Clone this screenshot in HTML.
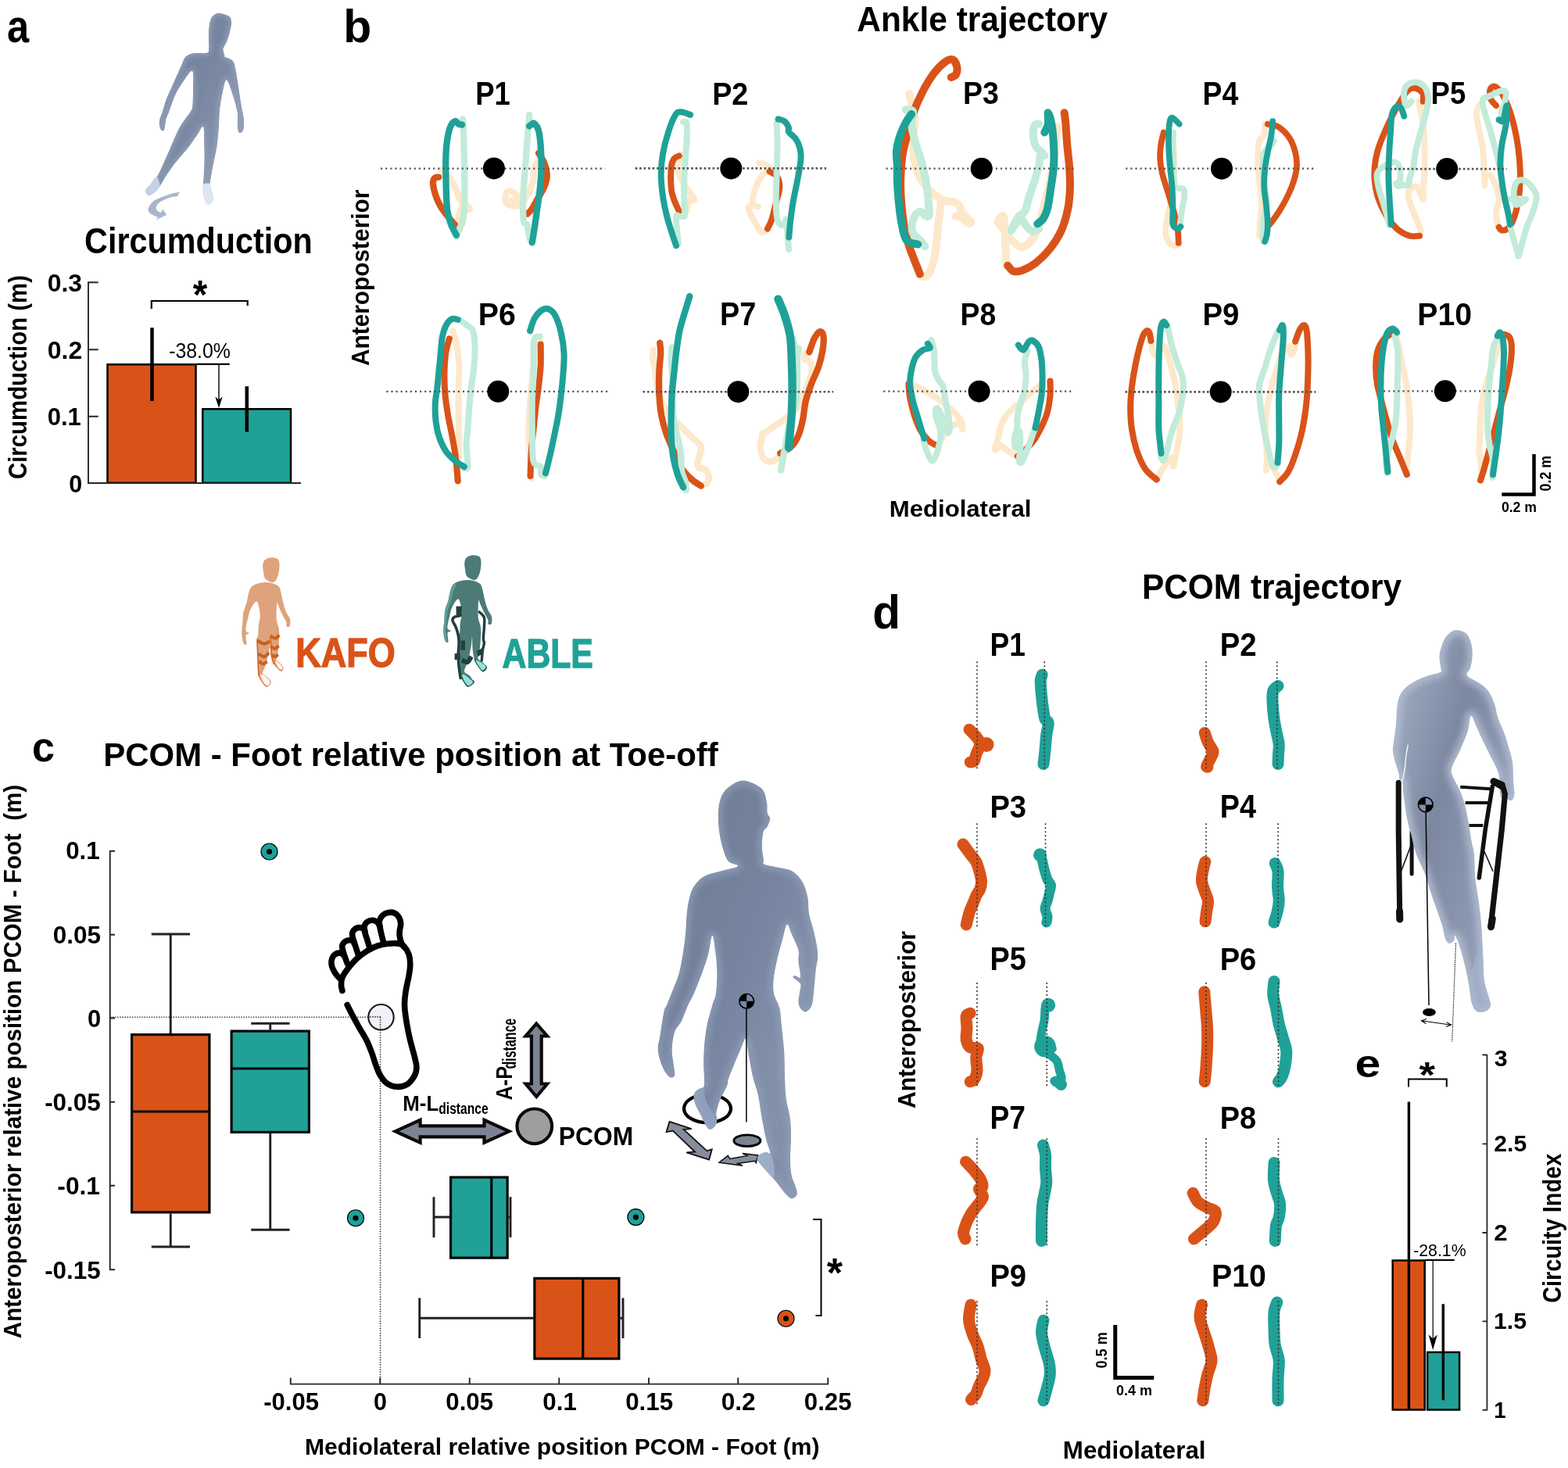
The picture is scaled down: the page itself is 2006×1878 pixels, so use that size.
<!DOCTYPE html>
<html lang="en"><head><meta charset="utf-8"><title>Figure</title>
<style>
html,body{margin:0;padding:0;background:#fff;}
body{width:2006px;height:1878px;overflow:hidden;}
svg{display:block;}
text{font-family:"Liberation Sans",sans-serif;}
.b{font-weight:bold;}
</style></head><body>
<svg width="2006" height="1878" viewBox="0 0 2006 1878">
<rect width="2006" height="1878" fill="#fff"/>
<!-- 00_defs.svg -->
<defs>
<linearGradient id="gFigA" gradientUnits="userSpaceOnUse" x1="190" y1="60" x2="315" y2="120">
<stop offset="0" stop-color="#73809A"/><stop offset="0.6" stop-color="#7886A1"/><stop offset="1" stop-color="#8592AB"/>
</linearGradient>
<linearGradient id="gFig" gradientUnits="userSpaceOnUse" x1="850" y1="1150" x2="1050" y2="1230">
<stop offset="0" stop-color="#717D95"/><stop offset="0.55" stop-color="#7684A0"/><stop offset="1" stop-color="#8290AA"/>
</linearGradient>
<linearGradient id="gFigD" gradientUnits="userSpaceOnUse" x1="1785" y1="950" x2="1940" y2="990">
<stop offset="0" stop-color="#98A4BA"/><stop offset="0.45" stop-color="#7C88A1"/><stop offset="1" stop-color="#8E9AB3"/>
</linearGradient>
<filter id="blur2" x="-20%" y="-20%" width="140%" height="140%"><feGaussianBlur stdDeviation="2"/></filter>
<filter id="blur3" x="-20%" y="-20%" width="140%" height="140%"><feGaussianBlur stdDeviation="3"/></filter>
<filter id="blur5" x="-20%" y="-20%" width="140%" height="140%"><feGaussianBlur stdDeviation="5"/></filter>
</defs>
<!-- 10_a.svg -->
<g id="panel-a">
<clipPath id="clipA"><path d="M267.0 61.2C266.6 62.5 268.2 66.4 265.0 67.5C261.8 68.6 252.1 67.2 247.5 68.0C242.9 68.8 240.0 70.1 237.5 72.5C235.0 74.9 235.0 77.1 232.5 82.5C230.0 87.9 225.8 97.5 222.5 105.0C219.2 112.5 214.9 121.2 212.5 127.5C210.1 133.8 209.5 137.9 208.0 142.5C206.5 147.1 204.2 151.2 203.8 155.0C203.3 158.8 204.5 163.6 205.5 165.5C206.5 167.4 208.8 168.4 210.0 166.2C211.2 164.1 211.6 156.0 212.5 152.5C213.4 149.0 213.4 150.4 215.5 145.0C217.6 139.6 221.3 127.5 225.0 120.0C228.7 112.5 234.0 104.8 237.5 100.0C241.0 95.2 244.7 89.2 246.2 91.2C247.8 93.3 247.0 105.2 247.0 112.5C247.0 119.8 246.8 130.0 246.2 135.0C245.7 140.0 246.5 137.9 243.8 142.5C241.0 147.1 234.4 154.6 230.0 162.5C225.6 170.4 221.2 181.7 217.5 190.0C213.8 198.3 210.4 206.2 207.5 212.5C204.6 218.8 202.7 223.3 200.0 227.5C197.3 231.7 193.5 234.8 191.2 237.5C189.0 240.2 186.5 241.7 186.2 243.8C186.0 245.8 188.1 249.6 190.0 250.0C191.9 250.4 195.0 248.3 197.5 246.2C200.0 244.2 202.5 241.0 205.0 237.5C207.5 234.0 209.2 230.0 212.5 225.0C215.8 220.0 220.4 213.3 225.0 207.5C229.6 201.7 235.4 195.8 240.0 190.0C244.6 184.2 249.2 177.1 252.5 172.5C255.8 167.9 258.5 160.0 260.0 162.5C261.5 165.0 261.0 179.2 261.2 187.5C261.5 195.8 261.5 204.6 261.2 212.5C261.0 220.4 260.2 229.2 260.0 235.0C259.8 240.8 259.4 243.5 260.0 247.5C260.6 251.5 262.5 256.5 263.8 258.8C265.0 261.0 266.0 261.9 267.5 261.2C269.0 260.6 272.1 258.5 272.5 255.0C272.9 251.5 270.6 243.3 270.0 240.0C269.4 236.7 268.3 239.6 268.8 235.0C269.2 230.4 271.0 220.4 272.5 212.5C274.0 204.6 276.2 195.8 277.5 187.5C278.8 179.2 279.4 170.4 280.0 162.5C280.6 154.6 280.4 147.5 281.2 140.0C282.1 132.5 283.5 123.8 285.0 117.5C286.5 111.2 287.7 101.2 290.0 102.5C292.3 103.8 296.5 117.9 298.8 125.0C301.0 132.1 302.9 138.8 303.8 145.0C304.6 151.2 303.3 158.3 303.8 162.5C304.2 166.7 305.0 169.4 306.2 170.0C307.5 170.6 310.3 169.2 311.2 166.2C312.2 163.3 312.4 157.7 312.0 152.5C311.6 147.3 309.9 142.1 308.8 135.0C307.6 127.9 306.2 117.9 305.0 110.0C303.8 102.1 302.5 92.9 301.2 87.5C300.0 82.1 299.8 80.0 297.5 77.5C295.2 75.0 289.2 73.5 287.5 72.5C285.8 71.5 287.8 72.9 287.5 71.2C287.2 69.6 285.2 65.4 285.6 62.4C286.1 59.3 288.9 56.6 290.3 53.0C291.7 49.4 293.2 44.6 294.2 40.5C295.2 36.5 296.2 32.1 296.1 28.8C295.9 25.6 295.9 23.0 293.4 21.0C290.9 19.0 284.1 17.3 280.9 16.8C277.8 16.4 276.5 17.3 274.7 18.4C272.9 19.5 271.3 20.7 270.0 23.4C268.8 26.0 267.9 30.4 267.4 34.3C266.9 38.2 266.9 42.5 266.9 46.8C266.9 51.1 267.2 57.6 267.2 60.0C267.2 62.4 267.4 60.0 267.0 61.2Z"/></clipPath>
<g clip-path="url(#clipA)"><path d="M267.0 61.2C266.6 62.5 268.2 66.4 265.0 67.5C261.8 68.6 252.1 67.2 247.5 68.0C242.9 68.8 240.0 70.1 237.5 72.5C235.0 74.9 235.0 77.1 232.5 82.5C230.0 87.9 225.8 97.5 222.5 105.0C219.2 112.5 214.9 121.2 212.5 127.5C210.1 133.8 209.5 137.9 208.0 142.5C206.5 147.1 204.2 151.2 203.8 155.0C203.3 158.8 204.5 163.6 205.5 165.5C206.5 167.4 208.8 168.4 210.0 166.2C211.2 164.1 211.6 156.0 212.5 152.5C213.4 149.0 213.4 150.4 215.5 145.0C217.6 139.6 221.3 127.5 225.0 120.0C228.7 112.5 234.0 104.8 237.5 100.0C241.0 95.2 244.7 89.2 246.2 91.2C247.8 93.3 247.0 105.2 247.0 112.5C247.0 119.8 246.8 130.0 246.2 135.0C245.7 140.0 246.5 137.9 243.8 142.5C241.0 147.1 234.4 154.6 230.0 162.5C225.6 170.4 221.2 181.7 217.5 190.0C213.8 198.3 210.4 206.2 207.5 212.5C204.6 218.8 202.7 223.3 200.0 227.5C197.3 231.7 193.5 234.8 191.2 237.5C189.0 240.2 186.5 241.7 186.2 243.8C186.0 245.8 188.1 249.6 190.0 250.0C191.9 250.4 195.0 248.3 197.5 246.2C200.0 244.2 202.5 241.0 205.0 237.5C207.5 234.0 209.2 230.0 212.5 225.0C215.8 220.0 220.4 213.3 225.0 207.5C229.6 201.7 235.4 195.8 240.0 190.0C244.6 184.2 249.2 177.1 252.5 172.5C255.8 167.9 258.5 160.0 260.0 162.5C261.5 165.0 261.0 179.2 261.2 187.5C261.5 195.8 261.5 204.6 261.2 212.5C261.0 220.4 260.2 229.2 260.0 235.0C259.8 240.8 259.4 243.5 260.0 247.5C260.6 251.5 262.5 256.5 263.8 258.8C265.0 261.0 266.0 261.9 267.5 261.2C269.0 260.6 272.1 258.5 272.5 255.0C272.9 251.5 270.6 243.3 270.0 240.0C269.4 236.7 268.3 239.6 268.8 235.0C269.2 230.4 271.0 220.4 272.5 212.5C274.0 204.6 276.2 195.8 277.5 187.5C278.8 179.2 279.4 170.4 280.0 162.5C280.6 154.6 280.4 147.5 281.2 140.0C282.1 132.5 283.5 123.8 285.0 117.5C286.5 111.2 287.7 101.2 290.0 102.5C292.3 103.8 296.5 117.9 298.8 125.0C301.0 132.1 302.9 138.8 303.8 145.0C304.6 151.2 303.3 158.3 303.8 162.5C304.2 166.7 305.0 169.4 306.2 170.0C307.5 170.6 310.3 169.2 311.2 166.2C312.2 163.3 312.4 157.7 312.0 152.5C311.6 147.3 309.9 142.1 308.8 135.0C307.6 127.9 306.2 117.9 305.0 110.0C303.8 102.1 302.5 92.9 301.2 87.5C300.0 82.1 299.8 80.0 297.5 77.5C295.2 75.0 289.2 73.5 287.5 72.5C285.8 71.5 287.8 72.9 287.5 71.2C287.2 69.6 285.2 65.4 285.6 62.4C286.1 59.3 288.9 56.6 290.3 53.0C291.7 49.4 293.2 44.6 294.2 40.5C295.2 36.5 296.2 32.1 296.1 28.8C295.9 25.6 295.9 23.0 293.4 21.0C290.9 19.0 284.1 17.3 280.9 16.8C277.8 16.4 276.5 17.3 274.7 18.4C272.9 19.5 271.3 20.7 270.0 23.4C268.8 26.0 267.9 30.4 267.4 34.3C266.9 38.2 266.9 42.5 266.9 46.8C266.9 51.1 267.2 57.6 267.2 60.0C267.2 62.4 267.4 60.0 267.0 61.2Z" fill="url(#gFigA)"/><g filter="url(#blur3)" opacity="0.8"><path d="M267.0 61.2C266.6 62.5 268.2 66.4 265.0 67.5C261.8 68.6 252.1 67.2 247.5 68.0C242.9 68.8 240.0 70.1 237.5 72.5C235.0 74.9 235.0 77.1 232.5 82.5C230.0 87.9 225.8 97.5 222.5 105.0C219.2 112.5 214.9 121.2 212.5 127.5C210.1 133.8 209.5 137.9 208.0 142.5C206.5 147.1 204.2 151.2 203.8 155.0C203.3 158.8 204.5 163.6 205.5 165.5C206.5 167.4 208.8 168.4 210.0 166.2C211.2 164.1 211.6 156.0 212.5 152.5C213.4 149.0 213.4 150.4 215.5 145.0C217.6 139.6 221.3 127.5 225.0 120.0C228.7 112.5 234.0 104.8 237.5 100.0C241.0 95.2 244.7 89.2 246.2 91.2C247.8 93.3 247.0 105.2 247.0 112.5C247.0 119.8 246.8 130.0 246.2 135.0C245.7 140.0 246.5 137.9 243.8 142.5C241.0 147.1 234.4 154.6 230.0 162.5C225.6 170.4 221.2 181.7 217.5 190.0C213.8 198.3 210.4 206.2 207.5 212.5C204.6 218.8 202.7 223.3 200.0 227.5C197.3 231.7 193.5 234.8 191.2 237.5C189.0 240.2 186.5 241.7 186.2 243.8C186.0 245.8 188.1 249.6 190.0 250.0C191.9 250.4 195.0 248.3 197.5 246.2C200.0 244.2 202.5 241.0 205.0 237.5C207.5 234.0 209.2 230.0 212.5 225.0C215.8 220.0 220.4 213.3 225.0 207.5C229.6 201.7 235.4 195.8 240.0 190.0C244.6 184.2 249.2 177.1 252.5 172.5C255.8 167.9 258.5 160.0 260.0 162.5C261.5 165.0 261.0 179.2 261.2 187.5C261.5 195.8 261.5 204.6 261.2 212.5C261.0 220.4 260.2 229.2 260.0 235.0C259.8 240.8 259.4 243.5 260.0 247.5C260.6 251.5 262.5 256.5 263.8 258.8C265.0 261.0 266.0 261.9 267.5 261.2C269.0 260.6 272.1 258.5 272.5 255.0C272.9 251.5 270.6 243.3 270.0 240.0C269.4 236.7 268.3 239.6 268.8 235.0C269.2 230.4 271.0 220.4 272.5 212.5C274.0 204.6 276.2 195.8 277.5 187.5C278.8 179.2 279.4 170.4 280.0 162.5C280.6 154.6 280.4 147.5 281.2 140.0C282.1 132.5 283.5 123.8 285.0 117.5C286.5 111.2 287.7 101.2 290.0 102.5C292.3 103.8 296.5 117.9 298.8 125.0C301.0 132.1 302.9 138.8 303.8 145.0C304.6 151.2 303.3 158.3 303.8 162.5C304.2 166.7 305.0 169.4 306.2 170.0C307.5 170.6 310.3 169.2 311.2 166.2C312.2 163.3 312.4 157.7 312.0 152.5C311.6 147.3 309.9 142.1 308.8 135.0C307.6 127.9 306.2 117.9 305.0 110.0C303.8 102.1 302.5 92.9 301.2 87.5C300.0 82.1 299.8 80.0 297.5 77.5C295.2 75.0 289.2 73.5 287.5 72.5C285.8 71.5 287.8 72.9 287.5 71.2C287.2 69.6 285.2 65.4 285.6 62.4C286.1 59.3 288.9 56.6 290.3 53.0C291.7 49.4 293.2 44.6 294.2 40.5C295.2 36.5 296.2 32.1 296.1 28.8C295.9 25.6 295.9 23.0 293.4 21.0C290.9 19.0 284.1 17.3 280.9 16.8C277.8 16.4 276.5 17.3 274.7 18.4C272.9 19.5 271.3 20.7 270.0 23.4C268.8 26.0 267.9 30.4 267.4 34.3C266.9 38.2 266.9 42.5 266.9 46.8C266.9 51.1 267.2 57.6 267.2 60.0C267.2 62.4 267.4 60.0 267.0 61.2Z" fill="none" stroke="#98A5BD" stroke-width="6"/></g></g>
<path d="M200.0 226.2C197.8 226.2 193.5 234.6 191.2 237.5C189.0 240.4 186.5 241.7 186.2 243.8C186.0 245.8 188.1 249.6 190.0 250.0C191.9 250.4 195.1 248.3 197.5 246.2C199.9 244.2 204.1 240.8 204.5 237.5C204.9 234.2 202.2 226.2 200.0 226.2Z" fill="#C3D0E6"/>
<path d="M260.0 236.2C258.5 238.3 259.4 243.8 260.0 247.5C260.6 251.2 262.5 256.5 263.8 258.8C265.0 261.0 266.0 261.9 267.5 261.2C269.0 260.6 272.1 258.5 272.5 255.0C272.9 251.5 270.6 243.3 270.0 240.0C269.4 236.7 270.4 235.6 268.8 235.0C267.1 234.4 261.5 234.2 260.0 236.2Z" fill="#DDE5F2"/>
<path d="M229.9 246.1L221.3 247.6L212.8 250.2L205.2 253.2L198.2 256.2L192.6 261.2L189.9 266.8L190.1 270.3L192.6 273.3L197.7 275.8L202.7 277.8L200.2 280.8L212.8 274.8L208.5 268.3L207.0 270.5L206.2 272.3L202.2 270.8L199.7 267.8L199.2 264.7L201.2 261.2L205.2 257.7L211.2 254.7L219.3 251.7L227.3 250.7L227.8 248.6Z" fill="#A6B7CC" stroke="#A6B7CC" stroke-width="0.6" stroke-linejoin="round"/>
<rect x="137.5" y="466.25" width="113" height="151.5" fill="#D95319" stroke="#000" stroke-width="2.5"/>
<rect x="259.25" y="523.25" width="112.75" height="94.5" fill="#1FA198" stroke="#000" stroke-width="2.5"/>
<path d="M125.7 361.3H113V618H385M113 447.2H125.7M113 532.7H125.7" fill="none" stroke="#262626" stroke-width="1.9"/>
<path d="M194.5 419.2V513M315.8 494.2V552.5" stroke="#000" stroke-width="4.5" fill="none"/>
<path d="M251 465.8H293.8" stroke="#000" stroke-width="2.2" fill="none"/>
<path d="M280 466V515" stroke="#000" stroke-width="1.4" fill="none"/><path d="M280 522L275.3 507.5L280 511.5L284.7 507.5Z" fill="#000"/>
<path d="M193.8 395V385H316.7V391" stroke="#000" stroke-width="2.2" fill="none"/>
</g>
<text transform="translate(8.98 54.41) scale(0.2533 0.2936)" font-size="200" font-weight="bold" fill="#000" style="white-space:pre">a</text>
<text transform="translate(108.05 324.34) scale(0.2068 0.2299)" font-size="200" font-weight="bold" fill="#000" style="white-space:pre">Circumduction</text>
<text transform="translate(60.73 373.48) scale(0.1593 0.1592)" font-size="200" font-weight="bold" fill="#000" style="white-space:pre">0.3</text>
<text transform="translate(60.72 458.98) scale(0.1599 0.1592)" font-size="200" font-weight="bold" fill="#000" style="white-space:pre">0.2</text>
<text transform="translate(60.76 544.48) scale(0.1551 0.1592)" font-size="200" font-weight="bold" fill="#000" style="white-space:pre">0.1</text>
<text transform="translate(88.18 629.98) scale(0.1526 0.1592)" font-size="200" font-weight="bold" fill="#000" style="white-space:pre">0</text>
<text transform="translate(246.86 395.12) scale(0.2382 0.2581)" font-size="200" font-weight="bold" fill="#000" style="white-space:pre">*</text>
<text transform="translate(216.18 457.83) scale(0.1244 0.1345)" font-size="200" fill="#000" style="white-space:pre">-38.0%</text>
<text transform="translate(34.09 613.02) rotate(-90) scale(0.1469 0.1644)" font-size="200" font-weight="bold" fill="#000" style="white-space:pre">Circumduction (m)</text>
<!-- 20_b.svg -->
<g id="panel-b" fill="none" stroke-linecap="round" stroke-linejoin="round">
<g><!-- P1 -->
<path d="M564.0 217.5C565.8 219.1 571.5 222.4 574.9 226.6C578.2 230.8 581.5 237.8 583.9 242.9C586.3 248.0 586.6 253.6 589.4 257.4C592.1 261.2 598.7 263.7 600.2 265.5C601.7 267.3 600.1 268.1 598.4 268.2C596.8 268.4 592.2 264.9 590.3 266.4C588.3 267.9 587.4 273.7 586.6 277.3C585.9 280.9 585.9 286.4 585.7 288.2" stroke="#FDE8CB" stroke-width="8.3"/>
<path d="M687.1 208.5C686.5 209.4 684.4 210.0 683.5 213.9C682.6 217.8 683.2 226.0 681.7 232.0C680.2 238.1 677.5 245.0 674.5 250.1C671.4 255.3 667.7 260.9 663.6 262.8C659.5 264.7 652.9 262.9 650.0 261.4C647.2 259.9 646.4 256.5 646.4 253.8C646.4 251.0 647.8 245.6 650.0 244.7C652.3 243.8 658.0 246.5 660.0 248.3C661.9 250.1 662.7 254.2 661.8 255.6C660.9 256.9 655.8 256.3 654.5 256.5" stroke="#FDE8CB" stroke-width="8.3"/>
<path d="M561.3 226.6C560.4 226.8 557.1 226.7 555.9 228.0C554.6 229.4 553.9 231.4 554.0 234.7C554.2 238.1 555.1 243.4 556.8 248.3C558.4 253.3 561.0 259.5 564.0 264.6C567.0 269.8 571.5 274.9 574.9 279.1C578.2 283.3 581.8 287.6 583.9 290.0C586.0 292.4 586.9 293.0 587.5 293.6" stroke="#D95319" stroke-width="8.3"/>
<path d="M689.0 195.8C690.2 197.9 694.4 203.7 696.2 208.5C698.0 213.3 699.8 219.7 699.8 224.8C699.8 229.9 698.3 234.1 696.2 239.3C694.1 244.4 689.9 250.7 687.1 255.6C684.4 260.4 682.0 265.2 679.9 268.2C677.8 271.3 675.4 272.8 674.5 273.7" stroke="#D95319" stroke-width="8.3"/>
<path d="M592.1 152.4C592.2 155.1 592.7 159.9 593.0 168.7C593.3 177.4 593.6 192.8 593.9 204.9C594.1 216.9 594.4 230.5 594.4 241.1C594.4 251.6 594.3 261.3 593.9 268.2C593.5 275.2 593.1 278.5 592.1 282.7C591.0 287.0 588.9 290.3 587.5 293.6C586.2 296.9 584.5 301.1 583.9 302.7" stroke="#C2EBD9" stroke-width="8.3"/>
<path d="M677.2 146.9C676.9 150.5 676.1 159.0 675.4 168.7C674.6 178.3 673.6 192.8 672.7 204.9C671.8 216.9 670.5 232.0 669.9 241.1C669.3 250.1 669.0 252.3 669.0 259.2C669.0 266.1 669.0 277.9 669.9 282.7C670.8 287.6 673.3 284.8 674.5 288.2C675.7 291.5 676.1 298.7 677.2 302.7C678.2 306.6 680.2 310.2 680.8 311.7" stroke="#C2EBD9" stroke-width="8.3"/>
<path d="M591.2 159.6C590.4 159.4 588.1 159.4 586.6 158.7C585.1 157.9 583.9 154.3 582.1 155.1C580.3 155.8 577.5 158.5 575.8 163.2C574.0 167.9 572.5 176.2 571.6 183.1C570.7 190.1 570.5 195.2 570.3 204.9C570.2 214.5 570.4 230.5 570.7 241.1C571.0 251.6 571.2 260.7 572.2 268.2C573.1 275.8 574.7 280.9 576.7 286.4C578.6 291.8 582.7 298.4 583.9 300.8" stroke="#1FA198" stroke-width="8.3"/>
<path d="M677.2 161.4C677.6 161.0 678.8 159.8 679.9 159.2C681.0 158.6 682.0 156.5 683.5 157.8C685.0 159.1 687.6 162.0 689.0 166.8C690.3 171.7 691.1 178.9 691.7 186.8C692.3 194.6 692.7 204.9 692.6 213.9C692.4 223.0 691.7 232.0 690.8 241.1C689.9 250.1 688.4 259.5 687.1 268.2C685.9 277.0 684.6 286.7 683.5 293.6C682.5 300.5 681.3 307.2 680.8 309.9" stroke="#1FA198" stroke-width="8.3"/>
<path d="M487.0 215.7H774.1" stroke="#555" stroke-width="2.2" stroke-dasharray="2.2 3.9" stroke-linecap="butt"/>
<circle cx="631.9" cy="215.4" r="14" fill="#000"/>
</g>
<g><!-- P2 -->
<path d="M873.2 197.6C872.3 200.0 868.5 207.9 867.8 212.1C867.0 216.3 866.9 218.1 868.7 223.0C870.5 227.8 875.5 236.0 878.7 241.1C881.8 246.2 886.3 251.2 887.7 253.8C889.1 256.3 887.7 256.2 886.8 256.5C885.9 256.8 883.6 253.3 882.3 255.6C880.9 257.8 879.3 267.6 878.7 270.1" stroke="#FDE8CB" stroke-width="7.9"/>
<path d="M971.0 208.5C972.2 208.8 975.8 209.1 978.2 210.3C980.7 211.5 985.8 213.6 985.5 215.7C985.2 217.8 979.2 220.0 976.4 223.0C973.7 226.0 971.3 229.3 969.2 233.8C967.1 238.4 964.7 245.6 963.8 250.1C962.9 254.7 962.7 258.6 963.8 261.0C964.8 263.4 970.4 264.3 970.1 264.6C969.8 264.9 964.1 262.5 962.0 262.8C959.8 263.1 957.4 264.0 957.4 266.4C957.4 268.9 960.0 273.4 962.0 277.3C963.9 281.2 967.1 286.7 969.2 290.0C971.3 293.3 972.5 296.6 974.6 297.2C976.7 297.8 980.7 294.2 981.9 293.6" stroke="#FDE8CB" stroke-width="7.9"/>
<path d="M868.7 199.4C867.6 200.0 864.0 200.6 862.4 203.1C860.7 205.5 859.3 207.6 858.7 213.9C858.1 220.3 858.1 234.1 858.7 241.1C859.3 248.0 860.7 250.7 862.4 255.6C864.0 260.4 867.6 267.6 868.7 270.1" stroke="#D95319" stroke-width="7.9"/>
<path d="M984.6 219.4C986.2 220.6 992.4 223.0 994.5 226.6C996.7 230.2 997.6 235.7 997.3 241.1C997.0 246.5 994.4 252.6 992.7 259.2C991.1 265.8 989.1 275.3 987.3 280.9C985.5 286.5 982.8 290.7 981.9 292.7" stroke="#D95319" stroke-width="7.9"/>
<path d="M874.1 156.0C874.9 156.3 877.9 154.2 878.7 157.8C879.4 161.4 879.0 169.9 878.7 177.7C878.4 185.6 877.4 194.3 876.8 204.9C876.2 215.4 875.2 230.5 875.0 241.1C874.9 251.6 875.8 262.4 875.9 268.2C876.1 274.1 876.7 274.9 875.9 276.4C875.2 277.9 873.2 277.3 871.4 277.3C869.6 277.3 866.0 274.0 865.1 276.4C864.2 278.8 865.5 285.9 866.0 291.8C866.4 297.7 867.5 308.4 867.8 311.7" stroke="#C2EBD9" stroke-width="7.9"/>
<path d="M993.6 157.8C993.8 162.6 994.5 175.9 994.5 186.8C994.5 197.6 993.9 210.9 993.6 223.0C993.3 235.1 992.6 249.5 992.7 259.2C992.9 268.9 993.3 276.1 994.5 280.9C995.8 285.8 998.3 287.6 1000.0 288.2C1001.6 288.8 1003.6 285.8 1004.5 284.5C1005.4 283.3 1005.0 279.1 1005.4 280.9C1005.9 282.7 1006.6 289.1 1007.2 295.4C1007.8 301.8 1008.7 315.0 1009.0 319.0" stroke="#C2EBD9" stroke-width="7.9"/>
<path d="M883.2 146.9C881.2 146.3 874.6 143.3 871.4 143.3C868.2 143.3 866.9 142.7 864.2 146.9C861.4 151.1 857.8 160.2 855.1 168.7C852.4 177.1 849.4 188.6 847.9 197.6C846.3 206.7 845.7 214.2 845.7 223.0C845.7 231.7 846.6 241.1 847.9 250.1C849.1 259.2 851.2 268.9 853.3 277.3C855.4 285.8 858.6 294.7 860.5 300.8C862.5 307.0 864.3 312.2 865.1 314.4" stroke="#1FA198" stroke-width="7.9"/>
<path d="M995.5 152.4C996.8 152.8 1001.3 153.3 1003.6 155.1C1005.9 156.9 1008.1 161.0 1009.0 163.2C1009.9 165.5 1007.5 166.2 1009.0 168.7C1010.5 171.1 1015.7 174.1 1018.1 177.7C1020.5 181.3 1022.5 185.9 1023.5 190.4C1024.6 194.9 1025.0 197.9 1024.4 204.9C1023.8 211.8 1021.6 223.0 1019.9 232.0C1018.2 241.1 1016.0 250.1 1014.5 259.2C1013.0 268.2 1011.7 279.0 1010.8 286.4C1010.0 293.8 1009.6 300.7 1009.4 303.6" stroke="#1FA198" stroke-width="7.9"/>
<path d="M812.6 215.4H1057.0" stroke="#555" stroke-width="2.6" stroke-dasharray="2.6 2.9" stroke-linecap="butt"/>
<circle cx="935.3" cy="215.4" r="14" fill="#000"/>
</g>
<g><!-- P3 -->
<path d="M1163.3 119.7C1163.8 121.7 1164.8 125.6 1166.1 131.5C1167.3 137.4 1170.3 147.5 1170.6 155.0C1170.9 162.6 1168.0 168.6 1167.9 176.8C1167.7 184.9 1168.2 195.5 1169.7 203.9C1171.2 212.4 1173.3 220.5 1176.9 227.5C1180.5 234.4 1186.3 240.7 1191.4 245.6C1196.5 250.4 1202.9 254.3 1207.7 256.4C1212.5 258.6 1217.1 257.0 1220.4 258.2C1223.7 259.5 1226.1 261.6 1227.6 263.7C1229.1 265.8 1228.5 269.1 1229.4 270.9C1230.3 272.7 1230.9 272.4 1233.1 274.5C1235.2 276.7 1241.2 281.8 1242.1 283.6C1243.0 285.4 1240.6 286.3 1238.5 285.4C1236.4 284.5 1232.2 279.7 1229.4 278.2C1226.7 276.7 1223.4 276.7 1222.2 276.4" stroke="#FDE8CB" stroke-width="10.0"/>
<path d="M1204.1 258.2C1203.5 262.8 1201.7 274.8 1200.5 285.4C1199.3 296.0 1198.4 312.0 1196.8 321.6C1195.3 331.3 1193.5 337.9 1191.4 343.4C1189.3 348.8 1186.6 352.7 1184.2 354.2C1181.8 355.7 1178.1 352.7 1176.9 352.4" stroke="#FDE8CB" stroke-width="10.0"/>
<path d="M1352.6 162.3C1352.3 166.2 1351.7 177.4 1350.8 185.8C1349.9 194.3 1348.7 203.9 1347.1 213.0C1345.6 222.0 1343.8 231.1 1341.7 240.1C1339.6 249.2 1336.9 258.2 1334.5 267.3C1332.1 276.4 1329.9 287.5 1327.2 294.5C1324.5 301.4 1321.5 305.3 1318.2 309.0C1314.8 312.6 1310.9 316.2 1307.3 316.2C1303.7 316.2 1299.8 311.7 1296.4 309.0C1293.1 306.2 1289.8 302.9 1287.4 299.9C1285.0 296.9 1283.8 293.6 1282.0 290.8C1280.1 288.1 1276.2 286.0 1276.5 283.6C1276.8 281.2 1282.3 274.5 1283.8 276.4C1285.3 278.2 1285.1 286.9 1285.6 294.5C1286.0 302.0 1286.2 314.1 1286.5 321.6C1286.8 329.2 1287.2 336.7 1287.4 339.7" stroke="#FDE8CB" stroke-width="10.0"/>
<path d="M1216.8 98.9C1217.8 98.3 1221.9 97.7 1223.1 95.3C1224.3 92.9 1224.8 87.6 1224.0 84.4C1223.2 81.2 1221.0 77.2 1218.6 76.3C1216.2 75.4 1213.4 76.1 1209.5 79.0C1205.6 81.8 1199.9 87.1 1195.0 93.5C1190.2 99.8 1185.1 108.2 1180.5 117.0C1176.0 125.8 1171.2 136.6 1167.9 146.0C1164.5 155.3 1162.7 165.0 1160.6 173.1C1158.5 181.3 1156.5 186.7 1155.2 194.9C1153.8 203.0 1152.9 213.0 1152.5 222.0C1152.0 231.1 1151.9 238.6 1152.5 249.2C1153.1 259.8 1154.4 274.8 1156.1 285.4C1157.8 296.0 1160.2 304.7 1162.4 312.6C1164.7 320.4 1167.3 326.2 1169.7 332.5C1172.1 338.8 1175.7 347.6 1176.9 350.6" stroke="#D95319" stroke-width="10.0"/>
<path d="M1361.6 144.2C1361.9 146.6 1362.8 151.7 1363.4 158.7C1364.0 165.6 1364.5 176.8 1365.3 185.8C1366.0 194.9 1367.4 203.9 1368.0 213.0C1368.6 222.0 1369.2 231.1 1368.9 240.1C1368.6 249.2 1368.0 258.2 1366.2 267.3C1364.3 276.4 1361.8 286.0 1358.0 294.5C1354.2 302.9 1349.0 311.1 1343.5 318.0C1338.1 324.9 1331.4 331.4 1325.4 336.1C1319.4 340.8 1312.1 344.3 1307.3 346.1C1302.5 347.9 1299.5 348.0 1296.4 347.0C1293.4 345.9 1290.4 340.9 1289.2 339.7" stroke="#D95319" stroke-width="10.0"/>
<path d="M1158.8 140.5C1160.3 140.8 1166.7 139.3 1167.9 142.4C1169.1 145.4 1165.8 152.9 1166.1 158.7C1166.4 164.4 1168.2 170.7 1169.7 176.8C1171.2 182.8 1173.3 188.8 1175.1 194.9C1176.9 200.9 1178.7 205.4 1180.5 213.0C1182.4 220.5 1184.8 232.6 1186.0 240.1C1187.2 247.7 1187.3 252.5 1187.8 258.2C1188.2 264.0 1189.3 271.5 1188.7 274.5C1188.1 277.6 1185.8 277.0 1184.2 276.4C1182.5 275.8 1180.8 271.2 1178.7 270.9C1176.6 270.6 1173.5 272.1 1171.5 274.5C1169.5 277.0 1167.6 281.5 1167.0 285.4C1166.4 289.3 1166.2 294.5 1167.9 298.1C1169.5 301.7 1174.4 304.3 1176.9 307.1C1179.5 310.0 1182.2 313.9 1183.3 315.3" stroke="#C2EBD9" stroke-width="10.0"/>
<path d="M1329.0 158.7C1328.1 159.0 1324.8 158.0 1323.6 160.5C1322.4 162.9 1321.5 168.6 1321.8 173.1C1322.1 177.7 1323.0 183.4 1325.4 187.6C1327.8 191.9 1335.4 196.4 1336.3 198.5C1337.2 200.6 1332.1 197.9 1330.8 200.3C1329.6 202.7 1330.2 207.8 1329.0 213.0C1327.8 218.1 1325.7 224.4 1323.6 231.1C1321.5 237.7 1318.5 246.2 1316.4 252.8C1314.2 259.5 1313.0 267.0 1310.9 270.9C1308.8 274.8 1305.8 273.9 1303.7 276.4C1301.6 278.8 1299.9 282.2 1298.2 285.4C1296.6 288.6 1293.4 295.4 1293.7 295.4C1294.0 295.4 1297.8 287.7 1300.1 285.4C1302.3 283.1 1304.9 280.9 1307.3 281.8C1309.7 282.7 1312.1 288.4 1314.5 290.8C1317.0 293.3 1319.4 296.0 1321.8 296.3C1324.2 296.6 1327.8 293.3 1329.0 292.7" stroke="#C2EBD9" stroke-width="10.0"/>
<path d="M1166.1 146.0C1164.8 147.8 1161.2 152.3 1158.8 156.8C1156.4 161.4 1153.5 167.1 1151.6 173.1C1149.6 179.2 1147.6 186.4 1147.0 193.1C1146.4 199.7 1147.8 206.6 1147.9 213.0C1148.1 219.3 1147.6 223.5 1147.9 231.1C1148.2 238.6 1148.9 249.2 1149.8 258.2C1150.7 267.3 1151.7 277.3 1153.4 285.4C1155.0 293.6 1156.2 302.6 1159.7 307.1C1163.2 311.7 1171.8 311.7 1174.2 312.6" stroke="#1FA198" stroke-width="10.0"/>
<path d="M1336.3 169.5C1337.0 167.7 1340.1 162.9 1340.8 158.7C1341.6 154.4 1340.1 144.2 1340.8 144.2C1341.6 144.2 1344.1 151.7 1345.3 158.7C1346.5 165.6 1347.6 176.8 1348.0 185.8C1348.5 194.9 1348.7 203.9 1348.0 213.0C1347.4 222.0 1345.8 231.1 1344.4 240.1C1343.1 249.2 1341.6 260.7 1339.9 267.3C1338.2 273.9 1336.6 276.8 1334.5 280.0C1332.4 283.1 1328.4 285.3 1327.2 286.3" stroke="#1FA198" stroke-width="10.0"/>
<path d="M1133.5 215.7H1377.0" stroke="#555" stroke-width="2.2" stroke-dasharray="2.2 3.9" stroke-linecap="butt"/>
<circle cx="1255.7" cy="215.7" r="14" fill="#000"/>
</g>
<g><!-- P4 -->
<path d="M1501.4 187.6C1501.6 190.3 1502.3 196.7 1502.3 203.9C1502.3 211.2 1502.2 222.0 1501.4 231.1C1500.7 240.1 1499.0 251.0 1497.8 258.2C1496.6 265.5 1495.1 270.0 1494.2 274.5C1493.3 279.1 1492.8 281.2 1492.4 285.4C1491.9 289.6 1490.8 295.7 1491.4 299.9C1492.1 304.1 1494.0 308.4 1496.0 310.8C1497.9 313.2 1501.1 314.1 1503.2 314.4C1505.3 314.7 1507.7 312.9 1508.7 312.6" stroke="#FDE8CB" stroke-width="7.7"/>
<path d="M1618.2 158.7C1618.1 161.1 1618.5 169.5 1617.3 173.1C1616.1 176.8 1612.3 175.3 1611.0 180.4C1609.6 185.5 1609.2 195.5 1609.2 203.9C1609.2 212.4 1610.2 223.5 1611.0 231.1C1611.7 238.6 1613.2 243.2 1613.7 249.2C1614.1 255.2 1614.0 261.3 1613.7 267.3C1613.4 273.3 1612.3 279.7 1611.9 285.4C1611.4 291.1 1611.1 299.0 1611.0 301.7" stroke="#FDE8CB" stroke-width="7.7"/>
<path d="M1488.7 169.5C1488.1 172.2 1485.9 180.1 1485.1 185.8C1484.4 191.5 1483.9 197.9 1484.2 203.9C1484.5 210.0 1485.6 216.0 1486.9 222.0C1488.3 228.1 1490.5 234.1 1492.4 240.1C1494.2 246.2 1496.0 252.2 1497.8 258.2C1499.6 264.3 1501.7 270.3 1503.2 276.4C1504.7 282.4 1506.1 288.7 1506.8 294.5C1507.6 300.2 1507.6 308.0 1507.7 310.8" stroke="#D95319" stroke-width="7.7"/>
<path d="M1621.8 158.7C1624.1 159.3 1630.7 159.3 1635.4 162.3C1640.1 165.3 1646.3 171.3 1649.9 176.8C1653.5 182.2 1655.6 188.8 1657.1 194.9C1658.7 200.9 1659.3 206.9 1659.0 213.0C1658.7 219.0 1657.1 225.1 1655.3 231.1C1653.5 237.1 1651.1 242.9 1648.1 249.2C1645.1 255.5 1641.1 262.8 1637.2 269.1C1633.3 275.5 1626.7 284.2 1624.5 287.2" stroke="#D95319" stroke-width="7.7"/>
<path d="M1501.4 169.5C1501.3 172.2 1500.5 178.6 1500.5 185.8C1500.5 193.1 1501.0 204.2 1501.4 213.0C1501.9 221.7 1501.1 233.5 1503.2 238.3C1505.3 243.2 1512.1 239.5 1514.1 242.0C1516.0 244.4 1515.3 248.6 1515.0 252.8C1514.7 257.0 1513.2 261.6 1512.3 267.3C1511.4 273.0 1510.0 283.9 1509.6 287.2" stroke="#C2EBD9" stroke-width="7.7"/>
<path d="M1630.0 180.4C1629.4 181.3 1628.5 183.4 1626.4 185.8C1624.2 188.2 1619.1 190.3 1617.3 194.9C1615.5 199.4 1615.6 206.9 1615.5 213.0C1615.3 219.0 1615.5 223.5 1616.4 231.1C1617.3 238.6 1620.8 250.7 1620.9 258.2C1621.1 265.8 1618.2 270.3 1617.3 276.4C1616.4 282.4 1615.6 289.0 1615.5 294.5C1615.3 299.9 1616.2 306.5 1616.4 309.0" stroke="#C2EBD9" stroke-width="7.7"/>
<path d="M1508.7 158.7C1507.1 157.3 1501.7 150.5 1499.6 150.5C1497.5 150.5 1496.7 152.8 1496.0 158.7C1495.2 164.5 1494.9 176.8 1495.1 185.8C1495.2 194.9 1496.1 203.9 1496.9 213.0C1497.6 222.0 1499.0 231.1 1499.6 240.1C1500.2 249.2 1500.4 259.5 1500.5 267.3C1500.7 275.2 1499.4 283.0 1500.5 287.2C1501.6 291.4 1505.2 292.2 1506.8 292.7C1508.5 293.1 1509.9 290.4 1510.5 289.9" stroke="#1FA198" stroke-width="7.7"/>
<path d="M1628.2 155.0C1627.9 158.0 1627.4 166.5 1626.4 173.1C1625.3 179.8 1623.2 187.6 1621.8 194.9C1620.5 202.1 1619.0 209.1 1618.2 216.6C1617.5 224.1 1617.0 232.3 1617.3 240.1C1617.6 248.0 1619.3 256.1 1620.0 263.7C1620.8 271.2 1621.7 279.4 1621.8 285.4C1622.0 291.4 1621.5 296.0 1620.9 299.9C1620.3 303.8 1618.7 307.4 1618.2 309.0" stroke="#1FA198" stroke-width="7.7"/>
<path d="M1440.2 215.7H1684.3" stroke="#555" stroke-width="2.2" stroke-dasharray="2.2 3.9" stroke-linecap="butt"/>
<circle cx="1563.0" cy="215.7" r="14" fill="#000"/>
</g>
<g><!-- P5 -->
<path d="M1814.4 129.7C1815.0 132.1 1816.8 137.8 1818.0 144.2C1819.2 150.5 1820.9 159.3 1821.7 167.7C1822.4 176.2 1822.4 185.8 1822.6 194.9C1822.7 203.9 1822.9 214.5 1822.6 222.0C1822.3 229.6 1821.1 234.6 1820.7 240.1C1820.4 245.7 1821.4 254.3 1820.7 255.5C1820.1 256.7 1818.5 250.1 1817.1 247.4C1815.8 244.7 1814.6 240.4 1812.6 239.2C1810.6 238.0 1807.2 238.5 1805.4 240.1C1803.5 241.8 1801.7 245.3 1801.7 249.2C1801.7 253.1 1803.5 258.2 1805.4 263.7C1807.2 269.1 1810.5 276.4 1812.6 281.8C1814.7 287.2 1817.1 293.9 1818.0 296.3" stroke="#FDE8CB" stroke-width="7.9"/>
<path d="M1892.3 135.1C1891.7 136.6 1888.7 139.0 1888.7 144.2C1888.7 149.3 1890.9 158.4 1892.3 165.9C1893.6 173.4 1895.7 181.6 1896.8 189.4C1897.9 197.3 1898.2 205.0 1898.6 213.0C1899.1 221.0 1899.4 233.4 1899.5 237.4" stroke="#FDE8CB" stroke-width="7.9"/>
<path d="M1906.8 223.8C1908.0 226.3 1912.2 233.2 1914.0 238.3C1915.8 243.5 1917.6 248.9 1917.6 254.6C1917.6 260.4 1914.3 267.3 1914.0 272.7C1913.7 278.2 1915.5 284.8 1915.8 287.2" stroke="#FDE8CB" stroke-width="7.9"/>
<path d="M1820.7 129.7C1820.6 127.9 1821.8 121.7 1819.8 118.8C1817.9 115.9 1812.3 112.8 1809.0 112.5C1805.7 112.2 1803.5 112.9 1799.9 117.0C1796.3 121.1 1791.8 128.8 1787.2 136.9C1782.7 145.1 1777.0 156.2 1772.8 165.9C1768.5 175.6 1764.3 185.5 1761.9 194.9C1759.5 204.2 1758.3 213.0 1758.3 222.0C1758.3 231.1 1759.5 240.4 1761.9 249.2C1764.3 257.9 1768.5 267.3 1772.8 274.5C1777.0 281.8 1782.1 288.1 1787.2 292.7C1792.4 297.2 1798.7 300.2 1803.5 301.7C1808.4 303.2 1814.1 301.7 1816.2 301.7" stroke="#D95319" stroke-width="7.9"/>
<path d="M1914.0 135.1C1912.8 133.6 1908.0 129.7 1906.8 126.1C1905.6 122.4 1905.6 115.8 1906.8 113.4C1908.0 111.0 1911.0 109.5 1914.0 111.6C1917.0 113.7 1921.6 119.7 1924.9 126.1C1928.2 132.4 1931.4 141.1 1933.9 149.6C1936.5 158.0 1938.6 167.7 1940.3 176.8C1941.9 185.8 1943.1 194.9 1943.9 203.9C1944.6 213.0 1945.1 222.0 1944.8 231.1C1944.5 240.1 1943.6 249.8 1942.1 258.2C1940.6 266.7 1938.0 276.1 1935.7 281.8C1933.5 287.5 1930.9 290.5 1928.5 292.7C1926.1 294.8 1923.1 294.8 1921.3 294.5C1919.4 294.2 1918.2 291.4 1917.6 290.8" stroke="#D95319" stroke-width="7.9"/>
<path d="M1805.4 129.7C1804.5 130.6 1801.4 135.7 1799.9 135.1C1798.4 134.5 1796.6 130.0 1796.3 126.1C1796.0 122.1 1796.0 115.0 1798.1 111.6C1800.2 108.1 1805.1 105.5 1809.0 105.2C1812.9 104.9 1818.6 106.3 1821.7 109.8C1824.7 113.2 1826.8 119.7 1827.1 126.1C1827.4 132.4 1825.3 139.9 1823.5 147.8C1821.7 155.6 1818.3 165.3 1816.2 173.1C1814.1 181.0 1812.1 188.2 1810.8 194.9C1809.4 201.5 1809.3 207.5 1808.1 213.0C1806.9 218.4 1804.6 223.5 1803.5 227.5C1802.5 231.4 1802.9 235.0 1801.7 236.5C1800.5 238.0 1798.4 236.2 1796.3 236.5C1794.2 236.8 1790.7 238.6 1789.1 238.3C1787.4 238.0 1786.0 235.9 1786.3 234.7C1786.6 233.5 1790.1 234.1 1790.9 231.1C1791.6 228.1 1791.8 220.5 1790.9 216.6C1790.0 212.7 1788.5 208.5 1785.4 207.5C1782.4 206.6 1776.7 208.8 1772.8 211.2C1768.8 213.6 1763.4 217.2 1761.9 222.0C1760.4 226.9 1762.5 234.1 1763.7 240.1C1764.9 246.2 1767.3 252.2 1769.1 258.2C1770.9 264.3 1773.2 271.5 1774.6 276.4C1775.9 281.2 1776.8 285.4 1777.3 287.2" stroke="#C2EBD9" stroke-width="7.9"/>
<path d="M1921.3 138.7C1921.3 140.2 1920.6 149.0 1921.3 147.8C1921.9 146.6 1924.0 136.3 1924.9 131.5C1925.8 126.7 1927.3 121.4 1926.7 118.8C1926.1 116.2 1924.6 115.5 1921.3 116.1C1917.9 116.7 1910.8 120.5 1906.8 122.4C1902.7 124.4 1898.0 124.2 1896.8 127.9C1895.6 131.5 1897.9 137.5 1899.5 144.2C1901.2 150.8 1904.4 159.3 1906.8 167.7C1909.2 176.2 1911.9 186.7 1914.0 194.9C1916.1 203.0 1918.5 213.0 1919.4 216.6" stroke="#C2EBD9" stroke-width="7.9"/>
<path d="M1932.1 254.6C1935.4 254.6 1950.8 253.4 1952.0 254.6C1953.2 255.8 1941.9 262.8 1939.4 261.9C1936.8 261.0 1936.6 253.7 1936.6 249.2C1936.6 244.7 1937.7 237.9 1939.4 234.7C1941.0 231.5 1943.6 229.9 1946.6 230.2C1949.6 230.5 1954.3 233.0 1957.5 236.5C1960.6 240.0 1965.0 245.3 1965.6 251.0C1966.2 256.7 1963.1 264.6 1961.1 270.9C1959.1 277.3 1956.0 283.0 1953.8 289.0C1951.7 295.1 1950.2 300.8 1948.4 307.1C1946.6 313.5 1944.2 324.6 1943.0 327.1C1941.8 329.5 1942.4 325.6 1941.2 321.6C1940.0 317.7 1937.5 310.2 1935.7 303.5C1933.9 296.9 1931.2 285.4 1930.3 281.8" stroke="#C2EBD9" stroke-width="7.9"/>
<path d="M1796.3 148.7C1795.7 147.0 1794.2 140.8 1792.7 138.7C1791.2 136.6 1789.2 134.8 1787.2 136.0C1785.3 137.2 1782.3 140.7 1780.9 146.0C1779.6 151.3 1779.7 159.6 1779.1 167.7C1778.5 175.9 1777.7 185.8 1777.3 194.9C1776.8 203.9 1776.4 213.0 1776.4 222.0C1776.4 231.1 1776.8 240.1 1777.3 249.2C1777.7 258.2 1778.7 270.0 1779.1 276.4C1779.5 282.7 1779.6 285.4 1779.6 287.2" stroke="#1FA198" stroke-width="7.9"/>
<path d="M1917.6 153.2C1918.5 153.4 1921.4 157.1 1923.1 154.1C1924.7 151.1 1927.0 134.4 1927.6 135.1C1928.2 135.9 1927.7 150.2 1926.7 158.7C1925.6 167.1 1922.5 177.4 1921.3 185.8C1920.0 194.3 1919.4 201.8 1919.4 209.4C1919.4 216.9 1920.3 223.8 1921.3 231.1C1922.2 238.3 1923.5 245.9 1924.9 252.8C1926.2 259.8 1928.2 267.0 1929.4 272.7C1930.6 278.5 1931.7 284.8 1932.1 287.2" stroke="#1FA198" stroke-width="7.9"/>
<path d="M1772.8 216.1H1927.6" stroke="#555" stroke-width="2.6" stroke-dasharray="2.6 2.9" stroke-linecap="butt"/>
<circle cx="1851.2" cy="216.1" r="14" fill="#000"/>
</g>
<g><!-- P6 -->
<path d="M579.4 423.3C580.2 426.2 582.6 433.1 583.9 440.5C585.3 447.9 587.1 458.7 587.5 467.7C588.0 476.8 586.8 484.3 586.6 494.9C586.5 505.4 586.5 519.0 586.6 531.1C586.8 543.2 587.7 556.7 587.5 567.3C587.4 577.9 586.1 586.3 585.7 594.5C585.4 602.6 585.4 612.6 585.4 616.2" stroke="#FDE8CB" stroke-width="8.0"/>
<path d="M690.8 435.1C689.6 439.0 685.3 448.7 683.5 458.7C681.7 468.6 681.0 482.8 679.9 494.9C678.8 506.9 677.8 520.5 677.2 531.1C676.6 541.6 676.1 549.2 676.3 558.2C676.4 567.3 677.5 576.4 678.1 585.4C678.7 594.5 679.6 608.0 679.9 612.6" stroke="#FDE8CB" stroke-width="8.0"/>
<path d="M574.9 433.3C574.1 436.3 571.4 444.2 570.3 451.4C569.3 458.7 568.7 468.0 568.5 476.8C568.4 485.5 568.7 494.9 569.4 503.9C570.2 513.0 571.5 522.0 573.1 531.1C574.6 540.1 576.8 549.2 578.5 558.2C580.2 567.3 581.8 575.9 583.0 585.4C584.2 594.9 585.3 610.3 585.7 615.3" stroke="#D95319" stroke-width="8.0"/>
<path d="M691.7 440.5C691.7 445.1 692.1 458.7 691.7 467.7C691.2 476.8 690.0 485.8 689.0 494.9C687.9 503.9 686.4 513.0 685.3 522.0C684.3 531.1 683.5 540.1 682.6 549.2C681.7 558.2 680.6 566.4 679.9 576.4C679.2 586.3 678.7 603.5 678.5 609.0" stroke="#D95319" stroke-width="8.0"/>
<path d="M589.4 409.8C590.9 411.0 595.8 414.9 598.4 417.0C601.0 419.1 603.2 418.5 604.7 422.4C606.3 426.4 607.2 433.0 607.5 440.5C607.8 448.1 607.3 458.7 606.6 467.7C605.8 476.8 604.0 485.8 602.9 494.9C601.9 503.9 601.0 513.0 600.2 522.0C599.5 531.1 599.0 541.6 598.4 549.2C597.8 556.7 596.8 561.6 596.6 567.3C596.4 573.0 597.2 578.5 597.5 583.6C597.8 588.7 599.0 595.5 598.4 598.1C597.8 600.7 594.6 598.8 593.9 599.0" stroke="#C2EBD9" stroke-width="8.0"/>
<path d="M690.8 430.6C689.9 430.7 686.7 429.8 685.3 431.5C684.0 433.1 683.1 433.0 682.6 440.5C682.2 448.1 682.9 464.7 682.6 476.8C682.3 488.8 681.1 500.9 680.8 513.0C680.5 525.1 680.7 537.1 680.8 549.2C681.0 561.3 681.0 577.9 681.7 585.4C682.5 593.0 683.7 592.5 685.3 594.5C687.0 596.4 690.5 595.1 691.7 597.2C692.9 599.3 691.7 605.2 692.6 607.1C693.5 609.1 696.3 608.7 697.1 609.0" stroke="#C2EBD9" stroke-width="8.0"/>
<path d="M585.7 408.9C584.5 408.7 580.9 406.9 578.5 407.9C576.1 409.0 573.4 411.3 571.2 415.2C569.1 419.1 567.2 424.2 565.8 431.5C564.5 438.7 564.2 448.1 563.1 458.7C562.0 469.2 560.5 485.2 559.5 494.9C558.4 504.5 557.1 509.1 556.8 516.6C556.5 524.1 556.8 532.9 557.7 540.1C558.6 547.4 559.9 553.7 562.2 560.1C564.5 566.4 567.6 573.0 571.2 578.2C574.9 583.3 580.2 587.7 583.9 590.8C587.7 594.0 592.2 596.1 593.9 597.2" stroke="#1FA198" stroke-width="8.0"/>
<path d="M678.1 423.3C679.0 420.8 681.1 412.3 683.5 407.9C685.9 403.6 689.6 399.2 692.6 397.1C695.6 395.0 698.6 394.1 701.6 395.3C704.6 396.5 708.0 399.2 710.7 404.3C713.4 409.5 716.1 418.2 717.9 426.1C719.7 433.9 721.1 443.0 721.5 451.4C722.0 459.9 721.2 468.0 720.6 476.8C720.0 485.5 719.0 494.9 717.9 503.9C716.9 513.0 715.8 522.0 714.3 531.1C712.8 540.1 710.7 549.5 708.9 558.2C707.1 567.0 705.3 575.8 703.4 583.6C701.6 591.4 698.9 601.7 698.0 605.3" stroke="#1FA198" stroke-width="8.0"/>
<path d="M494.3 500.8H780.4" stroke="#555" stroke-width="2.2" stroke-dasharray="2.2 3.9" stroke-linecap="butt"/>
<circle cx="637.3" cy="500.8" r="14" fill="#000"/>
</g>
<g><!-- P7 -->
<path d="M836.1 447.8C835.9 449.6 834.7 453.8 835.2 458.7C835.6 463.5 837.8 469.8 838.8 476.8C839.9 483.7 840.0 493.7 841.5 500.3C843.0 506.9 845.3 511.5 847.9 516.6C850.4 521.7 853.0 526.3 856.9 531.1C860.8 535.9 866.6 540.7 871.4 545.6C876.2 550.4 881.7 555.8 885.9 560.1C890.1 564.3 895.1 567.6 896.8 570.9C898.4 574.2 896.6 576.4 895.9 580.0C895.1 583.6 892.4 589.5 892.2 592.7C892.1 595.8 893.4 597.8 894.9 599.0C896.5 600.2 899.3 598.2 901.3 599.9C903.2 601.6 906.1 605.9 906.7 609.0C907.3 612.0 906.4 615.9 904.9 618.0C903.4 620.1 898.9 621.0 897.7 621.6" stroke="#FDE8CB" stroke-width="8.3"/>
<path d="M1031.7 450.5C1031.2 451.9 1028.2 456.7 1029.0 458.7C1029.7 460.6 1034.5 459.9 1036.2 462.3C1037.9 464.7 1039.2 468.6 1038.9 473.1C1038.6 477.7 1036.3 484.0 1034.4 489.4C1032.4 494.9 1029.6 500.3 1027.1 505.7C1024.7 511.2 1023.5 517.2 1019.9 522.0C1016.3 526.9 1010.8 530.5 1005.4 534.7C1000.0 538.9 991.5 544.4 987.3 547.4C983.1 550.4 982.0 551.6 980.1 552.8C978.1 554.0 976.4 553.4 975.5 554.6C974.6 555.8 975.1 557.0 974.6 560.1C974.2 563.1 972.5 568.5 972.8 572.7C973.1 577.0 974.3 582.4 976.4 585.4C978.6 588.4 982.2 590.8 985.5 590.8C988.8 590.8 994.5 586.3 996.4 585.4" stroke="#FDE8CB" stroke-width="8.3"/>
<path d="M844.2 438.7C844.4 440.8 845.3 445.1 845.2 451.4C845.0 457.7 843.6 468.0 843.3 476.8C843.0 485.5 842.9 494.9 843.3 503.9C843.8 513.0 844.5 522.6 846.1 531.1C847.6 539.5 849.7 546.8 852.4 554.6C855.1 562.5 859.2 570.9 862.4 578.2C865.5 585.4 867.8 592.4 871.4 598.1C875.0 603.8 879.9 608.7 884.1 612.6C888.3 616.5 894.6 620.1 896.8 621.6" stroke="#D95319" stroke-width="8.3"/>
<path d="M1035.3 450.5C1036.3 447.6 1039.4 437.7 1041.6 433.3C1043.9 428.9 1046.9 424.8 1048.9 424.2C1050.8 423.6 1052.8 425.8 1053.4 429.7C1054.0 433.6 1053.6 441.1 1052.5 447.8C1051.4 454.4 1049.5 462.3 1047.1 469.5C1044.6 476.8 1040.7 484.0 1038.0 491.2C1035.3 498.5 1032.6 505.4 1030.8 513.0C1029.0 520.5 1028.7 529.3 1027.1 536.5C1025.6 543.8 1024.1 550.7 1021.7 556.4C1019.3 562.2 1016.6 567.0 1012.7 570.9C1008.7 574.8 1000.6 578.5 998.2 580.0" stroke="#D95319" stroke-width="8.3"/>
<path d="M859.6 444.2C859.5 447.2 858.6 455.3 858.7 462.3C858.9 469.2 860.2 477.4 860.5 485.8C860.8 494.3 860.2 503.9 860.5 513.0C860.8 522.0 861.1 531.7 862.4 540.1C863.6 548.6 866.4 557.6 867.8 563.7C869.1 569.7 869.9 572.1 870.5 576.4C871.1 580.6 871.1 584.5 871.4 589.0C871.7 593.6 871.4 599.0 872.3 603.5C873.2 608.0 875.9 612.3 876.8 616.2C877.7 620.1 877.6 625.3 877.7 627.1" stroke="#C2EBD9" stroke-width="8.3"/>
<path d="M1014.5 433.3C1014.9 435.1 1016.0 442.1 1017.2 444.2C1018.4 446.3 1021.3 443.6 1021.7 446.0C1022.2 448.4 1020.2 452.0 1019.9 458.7C1019.6 465.3 1020.1 476.8 1019.9 485.8C1019.7 494.9 1020.2 505.4 1019.0 513.0C1017.8 520.5 1014.3 525.7 1012.7 531.1C1011.0 536.5 1010.2 539.5 1009.0 545.6C1007.8 551.6 1006.6 560.7 1005.4 567.3C1004.2 573.9 1002.8 579.7 1001.8 585.4C1000.7 591.1 999.5 599.0 999.1 601.7" stroke="#C2EBD9" stroke-width="8.3"/>
<path d="M882.3 379.0C881.4 382.0 879.0 389.8 876.8 397.1C874.7 404.3 871.6 413.4 869.6 422.4C867.6 431.5 866.3 442.4 865.1 451.4C863.9 460.5 863.3 468.0 862.4 476.8C861.4 485.5 860.2 494.9 859.6 503.9C859.0 513.0 858.9 522.0 858.7 531.1C858.6 540.1 858.3 549.2 858.7 558.2C859.2 567.3 860.1 577.3 861.4 585.4C862.8 593.6 864.8 600.8 866.9 607.1C869.0 613.5 872.9 620.7 874.1 623.4" stroke="#1FA198" stroke-width="8.3"/>
<path d="M995.5 382.6C996.8 385.9 1001.0 394.7 1003.6 402.5C1006.2 410.4 1009.3 420.3 1010.8 429.7C1012.4 439.0 1012.2 447.8 1012.7 458.7C1013.1 469.5 1013.6 482.8 1013.6 494.9C1013.6 506.9 1013.1 521.4 1012.7 531.1C1012.2 540.7 1011.4 545.9 1010.8 552.8C1010.2 559.8 1009.3 569.4 1009.0 572.7" stroke="#1FA198" stroke-width="10.4"/>
<path d="M822.5 501.2H1066.1" stroke="#555" stroke-width="2.6" stroke-dasharray="2.6 2.9" stroke-linecap="butt"/>
<circle cx="944.4" cy="501.2" r="14" fill="#000"/>
</g>
<g><!-- P8 -->
<path d="M1169.7 493.1C1171.5 494.0 1175.7 495.8 1180.5 498.5C1185.4 501.2 1192.6 505.1 1198.7 509.4C1204.7 513.6 1211.6 519.0 1216.8 523.8C1221.9 528.7 1227.0 534.1 1229.4 538.3C1231.9 542.6 1231.5 548.6 1231.2 549.2C1230.9 549.8 1230.0 542.6 1227.6 542.0C1225.2 541.3 1220.1 543.2 1216.8 545.6C1213.4 548.0 1210.4 552.8 1207.7 556.4C1205.0 560.1 1201.7 565.5 1200.5 567.3" stroke="#FDE8CB" stroke-width="8.0"/>
<path d="M1330.8 493.1C1329.3 494.3 1325.7 497.0 1321.8 500.3C1317.9 503.6 1312.7 508.1 1307.3 513.0C1301.9 517.8 1293.7 523.8 1289.2 529.3C1284.7 534.7 1282.3 539.8 1280.1 545.6C1278.0 551.3 1277.7 559.5 1276.5 563.7C1275.3 567.9 1273.4 569.0 1272.9 570.9C1272.4 572.9 1272.6 575.6 1273.8 575.5C1275.0 575.3 1277.6 569.9 1280.1 570.0C1282.7 570.2 1285.9 574.1 1289.2 576.4C1292.5 578.6 1298.2 582.4 1300.1 583.6" stroke="#FDE8CB" stroke-width="8.0"/>
<path d="M1162.4 491.2C1162.7 494.3 1163.0 502.7 1164.2 509.4C1165.5 516.0 1167.6 524.4 1169.7 531.1C1171.8 537.7 1173.9 543.8 1176.9 549.2C1179.9 554.6 1184.5 560.4 1187.8 563.7C1191.1 567.0 1195.3 568.2 1196.8 569.1" stroke="#D95319" stroke-width="8.0"/>
<path d="M1343.5 487.6C1343.5 490.6 1344.1 499.1 1343.5 505.7C1342.9 512.4 1341.7 520.8 1339.9 527.5C1338.1 534.1 1335.4 539.8 1332.7 545.6C1329.9 551.3 1326.9 557.0 1323.6 561.9C1320.3 566.7 1316.4 570.9 1312.7 574.5C1309.1 578.2 1303.7 582.1 1301.9 583.6" stroke="#D95319" stroke-width="8.0"/>
<path d="M1191.4 435.1C1192.0 437.5 1194.3 443.3 1195.0 449.6C1195.8 455.9 1195.0 467.1 1195.9 473.1C1196.8 479.2 1198.7 482.2 1200.5 485.8C1202.3 489.4 1205.3 490.3 1206.8 494.9C1208.3 499.4 1208.5 506.9 1209.5 513.0C1210.6 519.0 1212.2 525.1 1213.1 531.1C1214.0 537.1 1215.3 545.6 1214.9 549.2C1214.6 552.8 1212.8 555.2 1211.3 552.8C1209.8 550.4 1208.0 539.8 1205.9 534.7C1203.8 529.6 1200.2 522.6 1198.7 522.0C1197.1 521.4 1196.2 526.9 1196.8 531.1C1197.4 535.3 1201.2 542.6 1202.3 547.4C1203.3 552.2 1203.6 555.2 1203.2 560.1C1202.7 564.9 1200.9 571.8 1199.6 576.4C1198.2 580.9 1196.4 585.1 1195.0 587.2C1193.7 589.3 1192.9 590.5 1191.4 589.0C1189.9 587.5 1187.6 582.4 1186.0 578.2C1184.3 573.9 1182.2 566.1 1181.4 563.7" stroke="#C2EBD9" stroke-width="8.0"/>
<path d="M1314.5 449.6C1313.9 451.7 1311.2 457.1 1310.9 462.3C1310.6 467.4 1312.7 474.3 1312.7 480.4C1312.7 486.4 1312.1 492.5 1310.9 498.5C1309.7 504.5 1307.0 511.2 1305.5 516.6C1304.0 522.0 1302.6 525.7 1301.9 531.1C1301.1 536.5 1301.6 544.7 1301.0 549.2C1300.4 553.7 1298.7 554.6 1298.2 558.2C1297.8 561.9 1297.5 568.5 1298.2 570.9C1299.0 573.3 1301.6 574.5 1302.8 572.7C1304.0 570.9 1305.3 563.7 1305.5 560.1C1305.6 556.4 1303.7 548.9 1303.7 551.0C1303.7 553.1 1305.5 566.4 1305.5 572.7C1305.5 579.1 1303.4 586.0 1303.7 589.0C1304.0 592.1 1305.5 593.3 1307.3 590.8C1309.1 588.4 1311.8 581.5 1314.5 574.5C1317.3 567.6 1322.1 553.4 1323.6 549.2" stroke="#C2EBD9" stroke-width="8.0"/>
<path d="M1186.9 439.6C1187.3 440.5 1190.7 443.7 1189.6 445.1C1188.5 446.4 1183.6 445.8 1180.5 447.8C1177.5 449.7 1173.9 452.6 1171.5 456.8C1169.1 461.1 1167.3 467.4 1166.1 473.1C1164.8 478.9 1163.9 484.6 1164.2 491.2C1164.5 497.9 1166.4 506.3 1167.9 513.0C1169.4 519.6 1171.5 525.1 1173.3 531.1C1175.1 537.1 1177.2 544.2 1178.7 549.2C1180.2 554.2 1181.8 559.0 1182.4 561.0" stroke="#1FA198" stroke-width="8.0"/>
<path d="M1302.8 441.4C1303.8 442.5 1306.9 448.5 1309.1 447.8C1311.4 447.0 1314.2 438.9 1316.4 436.9C1318.5 435.0 1319.7 434.8 1321.8 436.0C1323.9 437.2 1327.2 439.8 1329.0 444.2C1330.8 448.5 1331.9 455.3 1332.7 462.3C1333.4 469.2 1333.6 478.9 1333.6 485.8C1333.6 492.8 1333.4 497.3 1332.7 503.9C1331.9 510.6 1330.4 518.4 1329.0 525.7C1327.7 532.9 1325.3 543.8 1324.5 547.4" stroke="#1FA198" stroke-width="8.0"/>
<path d="M1130.2 500.7H1373.9" stroke="#555" stroke-width="2.2" stroke-dasharray="2.2 3.9" stroke-linecap="butt"/>
<circle cx="1252.6" cy="500.7" r="14" fill="#000"/>
</g>
<g><!-- P9 -->
<path d="M1473.3 436.9C1473.5 438.7 1473.2 444.8 1474.2 447.8C1475.3 450.8 1477.9 455.0 1479.7 455.0C1481.5 455.0 1483.3 449.6 1485.1 447.8C1486.9 446.0 1488.4 440.8 1490.5 444.2C1492.7 447.5 1495.5 459.3 1497.8 467.7C1500.1 476.2 1502.5 485.8 1504.1 494.9C1505.8 503.9 1506.8 514.5 1507.7 522.0C1508.7 529.6 1509.4 534.1 1509.6 540.1C1509.7 546.2 1509.4 551.9 1508.7 558.2C1507.9 564.6 1506.2 571.8 1505.0 578.2C1503.8 584.5 1502.3 595.1 1501.4 596.3C1500.5 597.5 1501.4 585.7 1499.6 585.4C1497.8 585.1 1493.0 591.4 1490.5 594.5C1488.1 597.5 1486.8 600.5 1485.1 603.5C1483.5 606.5 1481.3 611.1 1480.6 612.6" stroke="#FDE8CB" stroke-width="8.0"/>
<path d="M1657.1 438.7C1656.8 440.5 1656.4 447.2 1655.3 449.6C1654.3 452.0 1651.9 454.4 1650.8 453.2C1649.7 452.0 1650.7 442.7 1649.0 442.4C1647.3 442.1 1643.7 445.7 1640.8 451.4C1638.0 457.1 1634.5 468.0 1631.8 476.8C1629.1 485.5 1626.5 494.9 1624.5 503.9C1622.6 513.0 1620.9 522.0 1620.0 531.1C1619.1 540.1 1619.0 549.2 1619.1 558.2C1619.3 567.3 1620.8 578.2 1620.9 585.4C1621.1 592.7 1620.2 599.0 1620.0 601.7" stroke="#FDE8CB" stroke-width="8.0"/>
<path d="M1626.4 594.5C1627.6 596.6 1631.8 603.7 1633.6 607.1C1635.4 610.6 1636.6 613.9 1637.2 615.3" stroke="#FDE8CB" stroke-width="8.0"/>
<path d="M1472.4 436.0C1472.1 434.4 1471.5 428.2 1470.6 426.1C1469.7 423.9 1468.5 422.4 1467.0 423.3C1465.5 424.2 1463.7 425.6 1461.6 431.5C1459.5 437.4 1456.6 448.1 1454.3 458.7C1452.1 469.2 1449.3 484.3 1448.0 494.9C1446.6 505.4 1446.2 513.0 1446.2 522.0C1446.2 531.1 1446.6 540.1 1448.0 549.2C1449.3 558.2 1451.5 567.9 1454.3 576.4C1457.2 584.8 1461.0 593.7 1465.2 599.9C1469.4 606.1 1477.3 611.2 1479.7 613.5" stroke="#D95319" stroke-width="8.0"/>
<path d="M1657.1 436.9C1658.0 434.5 1660.8 425.9 1662.6 422.4C1664.4 419.0 1666.5 416.1 1668.0 416.1C1669.5 416.1 1670.7 416.9 1671.6 422.4C1672.5 428.0 1673.1 440.5 1673.4 449.6C1673.7 458.7 1673.7 466.2 1673.4 476.8C1673.1 487.3 1672.8 500.9 1671.6 513.0C1670.4 525.1 1668.6 537.7 1666.2 549.2C1663.8 560.7 1660.2 572.7 1657.1 581.8C1654.1 590.8 1651.4 597.8 1648.1 603.5C1644.8 609.3 1639.0 614.1 1637.2 616.2" stroke="#D95319" stroke-width="8.0"/>
<path d="M1494.2 418.8C1494.9 422.4 1496.6 432.7 1498.7 440.5C1500.8 448.4 1504.4 458.7 1506.8 465.9C1509.3 473.1 1512.1 477.7 1513.2 484.0C1514.2 490.3 1513.9 496.7 1513.2 503.9C1512.4 511.2 1510.6 520.5 1508.7 527.5C1506.7 534.4 1503.5 539.5 1501.4 545.6C1499.3 551.6 1497.5 558.2 1496.0 563.7C1494.5 569.1 1493.6 573.9 1492.4 578.2C1491.1 582.4 1489.9 587.8 1488.7 589.0C1487.5 590.2 1485.7 586.0 1485.1 585.4" stroke="#C2EBD9" stroke-width="8.0"/>
<path d="M1635.4 423.3C1633.9 426.8 1629.4 435.9 1626.4 444.2C1623.3 452.5 1619.9 465.0 1617.3 473.1C1614.7 481.3 1611.9 486.4 1611.0 493.1C1610.1 499.7 1611.1 505.1 1611.9 513.0C1612.6 520.8 1614.0 531.1 1615.5 540.1C1617.0 549.2 1619.1 558.9 1620.9 567.3C1622.7 575.8 1624.7 585.7 1626.4 590.8C1628.0 596.0 1629.5 597.5 1630.9 598.1C1632.2 598.7 1633.9 595.1 1634.5 594.5" stroke="#C2EBD9" stroke-width="8.0"/>
<path d="M1492.4 416.1C1491.8 415.3 1489.9 411.1 1488.7 411.6C1487.5 412.0 1486.0 414.0 1485.1 418.8C1484.2 423.6 1483.8 430.9 1483.3 440.5C1482.8 450.2 1482.5 464.7 1482.4 476.8C1482.2 488.8 1482.4 500.9 1482.4 513.0C1482.4 525.1 1482.1 540.1 1482.4 549.2C1482.7 558.2 1483.7 562.2 1484.2 567.3C1484.7 572.4 1485.3 577.9 1485.5 580.0" stroke="#1FA198" stroke-width="8.0"/>
<path d="M1637.2 422.4C1637.8 421.4 1640.1 414.6 1640.8 416.1C1641.6 417.6 1642.1 422.9 1641.8 431.5C1641.4 440.1 1639.9 455.6 1639.0 467.7C1638.1 479.8 1636.8 491.9 1636.3 503.9C1635.9 516.0 1636.3 529.6 1636.3 540.1C1636.3 550.7 1636.6 558.7 1636.3 567.3C1636.0 575.9 1634.8 587.7 1634.5 591.8" stroke="#1FA198" stroke-width="8.0"/>
<path d="M1439.5 501.4H1683.4" stroke="#555" stroke-width="2.6" stroke-dasharray="2.6 2.9" stroke-linecap="butt"/>
<circle cx="1561.7" cy="501.4" r="14" fill="#000"/>
</g>
<g><!-- P10 -->
<path d="M1785.4 427.9C1786.3 431.5 1789.1 441.4 1790.9 449.6C1792.7 457.7 1794.6 467.7 1796.3 476.8C1798.0 485.8 1799.6 494.9 1800.8 503.9C1802.0 513.0 1803.1 522.0 1803.5 531.1C1804.0 540.1 1804.0 549.2 1803.5 558.2C1803.1 567.3 1801.6 577.3 1800.8 585.4C1800.1 593.6 1799.3 603.5 1799.0 607.1" stroke="#FDE8CB" stroke-width="8.0"/>
<path d="M1917.6 440.5C1916.7 443.6 1914.6 451.1 1912.2 458.7C1909.8 466.2 1905.7 477.4 1903.1 485.8C1900.6 494.3 1898.3 501.8 1896.8 509.4C1895.3 516.9 1894.7 522.9 1894.1 531.1C1893.5 539.2 1893.5 550.7 1893.2 558.2C1892.9 565.8 1892.0 570.3 1892.3 576.4C1892.6 582.4 1894.7 588.1 1895.0 594.5C1895.3 600.8 1894.2 611.1 1894.1 614.4" stroke="#FDE8CB" stroke-width="8.0"/>
<path d="M1781.8 426.1C1780.0 427.3 1774.1 429.7 1770.9 433.3C1767.8 436.9 1764.6 442.1 1762.8 447.8C1761.0 453.5 1760.2 460.5 1760.1 467.7C1759.9 474.9 1760.7 483.7 1761.9 491.2C1763.1 498.8 1765.2 504.8 1767.3 513.0C1769.4 521.1 1772.2 531.7 1774.6 540.1C1777.0 548.6 1779.1 556.1 1781.8 563.7C1784.5 571.2 1787.9 578.2 1790.9 585.4C1793.9 592.7 1798.4 603.5 1799.9 607.1" stroke="#D95319" stroke-width="8.0"/>
<path d="M1924.9 427.9C1925.9 428.5 1929.7 428.8 1931.2 431.5C1932.7 434.2 1933.8 438.1 1933.9 444.2C1934.1 450.2 1933.3 459.3 1932.1 467.7C1930.9 476.2 1928.8 485.8 1926.7 494.9C1924.6 503.9 1921.9 513.0 1919.4 522.0C1917.0 531.1 1914.6 540.1 1912.2 549.2C1909.8 558.2 1907.2 567.9 1905.0 576.4C1902.7 584.8 1900.4 593.6 1898.6 599.9C1896.8 606.2 1894.8 612.0 1894.1 614.4" stroke="#D95319" stroke-width="8.0"/>
<path d="M1784.5 429.7C1785.1 433.0 1787.5 441.8 1788.2 449.6C1788.8 457.4 1788.3 466.2 1788.2 476.8C1788.0 487.3 1787.7 502.4 1787.2 513.0C1786.8 523.5 1786.3 532.6 1785.4 540.1C1784.5 547.7 1783.3 552.2 1781.8 558.2C1780.3 564.3 1777.9 571.2 1776.4 576.4C1774.9 581.5 1773.1 584.2 1772.8 589.0C1772.5 593.9 1774.3 602.6 1774.6 605.3" stroke="#C2EBD9" stroke-width="8.0"/>
<path d="M1915.8 433.3C1914.9 435.1 1911.7 438.4 1910.4 444.2C1909.0 449.9 1908.6 459.3 1907.7 467.7C1906.8 476.2 1905.7 485.8 1905.0 494.9C1904.2 503.9 1903.4 513.0 1903.1 522.0C1902.8 531.1 1902.7 541.0 1903.1 549.2C1903.6 557.3 1904.8 564.9 1905.9 570.9C1906.9 577.0 1908.9 578.8 1909.5 585.4C1910.1 592.1 1909.5 606.5 1909.5 610.8" stroke="#C2EBD9" stroke-width="8.0"/>
<path d="M1787.2 425.2C1786.3 424.4 1783.9 420.5 1781.8 420.6C1779.7 420.8 1776.5 422.1 1774.6 426.1C1772.6 430.0 1771.3 437.2 1770.0 444.2C1768.8 451.1 1767.9 459.3 1767.3 467.7C1766.7 476.2 1766.4 485.8 1766.4 494.9C1766.4 503.9 1766.7 513.0 1767.3 522.0C1767.9 531.1 1769.1 540.1 1770.0 549.2C1770.9 558.2 1771.9 567.3 1772.8 576.4C1773.7 585.4 1775.0 599.0 1775.5 603.5" stroke="#1FA198" stroke-width="8.0"/>
<path d="M1915.8 429.7C1916.3 428.9 1917.5 424.8 1918.5 425.2C1919.6 425.5 1921.3 427.4 1922.2 431.5C1923.1 435.6 1923.8 442.1 1924.0 449.6C1924.1 457.1 1923.5 467.7 1923.1 476.8C1922.6 485.8 1921.9 494.9 1921.3 503.9C1920.6 513.0 1920.2 522.0 1919.4 531.1C1918.7 540.1 1917.8 549.2 1916.7 558.2C1915.7 567.3 1914.2 577.3 1913.1 585.4C1912.0 593.6 1910.5 603.5 1910.0 607.1" stroke="#1FA198" stroke-width="8.0"/>
<path d="M1770.0 500.3H1926.7" stroke="#555" stroke-width="2.2" stroke-dasharray="2.2 3.9" stroke-linecap="butt"/>
<circle cx="1848.8" cy="500.3" r="14" fill="#000"/>
</g>
</g>
<text transform="translate(608.22 133.50) scale(0.1827 0.2094)" font-size="200" font-weight="bold" fill="#000" style="white-space:pre">P1</text>
<text transform="translate(911.15 133.50) scale(0.1888 0.2064)" font-size="200" font-weight="bold" fill="#000" style="white-space:pre">P2</text>
<text transform="translate(1232.06 133.09) scale(0.1879 0.2035)" font-size="200" font-weight="bold" fill="#000" style="white-space:pre">P3</text>
<text transform="translate(1538.47 133.50) scale(0.1870 0.2094)" font-size="200" font-weight="bold" fill="#000" style="white-space:pre">P4</text>
<text transform="translate(1830.62 133.09) scale(0.1827 0.2064)" font-size="200" font-weight="bold" fill="#000" style="white-space:pre">P5</text>
<text transform="translate(611.75 415.99) scale(0.1964 0.2035)" font-size="200" font-weight="bold" fill="#000" style="white-space:pre">P6</text>
<text transform="translate(921.04 416.40) scale(0.1892 0.2094)" font-size="200" font-weight="bold" fill="#000" style="white-space:pre">P7</text>
<text transform="translate(1228.47 415.99) scale(0.1871 0.2035)" font-size="200" font-weight="bold" fill="#000" style="white-space:pre">P8</text>
<text transform="translate(1538.40 415.99) scale(0.1920 0.2035)" font-size="200" font-weight="bold" fill="#000" style="white-space:pre">P9</text>
<text transform="translate(1813.25 415.99) scale(0.1961 0.2035)" font-size="200" font-weight="bold" fill="#000" style="white-space:pre">P10</text>
<text transform="translate(439.32 53.65) scale(0.2946 0.2993)" font-size="200" font-weight="bold" fill="#000" style="white-space:pre">b</text>
<text transform="translate(1096.24 40.14) scale(0.2124 0.2182)" font-size="200" font-weight="bold" fill="#000" style="white-space:pre">Ankle trajectory</text>
<text transform="translate(471.78 468.05) rotate(-90) scale(0.1492 0.1529)" font-size="200" font-weight="bold" fill="#000" style="white-space:pre">Anteroposterior</text>
<text transform="translate(1137.78 660.81) scale(0.1557 0.1456)" font-size="200" font-weight="bold" fill="#000" style="white-space:pre">Mediolateral</text>
<path d="M1921.3 632.5H1962.5V580.9" fill="none" stroke="#000" stroke-width="4.5" stroke-linejoin="miter"/>
<text transform="translate(1920.89 654.72) scale(0.0884 0.0880)" font-size="200" font-weight="bold" fill="#000" style="white-space:pre">0.2 m</text>
<text transform="translate(1984.00 628.41) rotate(-90) scale(0.0892 0.0993)" font-size="200" font-weight="bold" fill="#000" style="white-space:pre">0.2 m</text>
<!-- 25_legend.svg -->
<g id="legend">
<path d="M348.1 745.9C351.0 746.8 354.4 748.2 356.3 750.0C358.1 751.9 358.3 753.6 359.3 757.2C360.3 760.7 361.2 767.0 362.4 771.5C363.6 775.9 365.0 780.3 366.5 783.7C367.9 787.1 370.4 789.0 371.1 791.9C371.7 794.8 371.3 799.5 370.6 801.1C369.8 802.6 367.2 802.1 366.5 801.3C365.8 800.4 367.1 798.4 366.3 796.0C365.4 793.6 363.0 790.2 361.4 786.8C359.7 783.4 357.4 778.1 356.3 775.6C355.1 773.0 354.6 768.7 354.2 771.5C353.8 774.2 353.4 786.8 353.7 791.9C354.0 797.0 355.7 799.0 356.3 802.1C356.9 805.2 357.2 806.9 357.3 810.3C357.4 813.7 357.1 817.9 356.8 822.5C356.4 827.1 355.8 834.1 355.2 837.8C354.7 841.6 353.2 843.3 353.4 845.0C353.6 846.7 354.8 846.7 356.3 848.0C357.7 849.4 361.2 851.4 361.9 853.1C362.6 854.8 361.5 857.7 360.5 858.2C359.6 858.8 358.0 857.8 356.3 856.4C354.5 855.0 351.5 852.3 350.1 850.1C348.8 847.8 348.7 845.8 348.1 842.9C347.5 840.0 346.9 837.0 346.6 832.7C346.2 828.5 346.3 818.3 346.0 817.4C345.8 816.6 345.7 823.4 345.0 827.6C344.3 831.9 343.0 838.7 342.0 842.9C340.9 847.2 339.9 849.9 338.9 853.1C337.9 856.4 335.4 859.9 336.0 862.3C336.7 864.7 341.3 865.6 343.0 867.4C344.7 869.3 346.4 871.7 346.0 873.6C345.7 875.4 342.6 878.7 340.9 878.7C339.2 878.7 337.5 875.8 335.8 873.6C334.1 871.4 331.6 867.4 330.7 865.4C329.9 863.4 330.8 864.2 330.7 861.3C330.6 858.4 330.5 852.8 330.2 848.0C330.0 843.3 329.5 837.8 329.2 832.7C328.9 827.6 328.5 820.8 328.7 817.4C328.9 814.0 329.9 815.2 330.2 812.3C330.6 809.4 330.3 804.3 330.7 800.1C331.2 795.8 333.1 791.9 332.8 786.8C332.4 781.7 330.7 770.6 328.7 769.4C326.6 768.2 322.5 775.9 320.5 779.6C318.6 783.4 318.0 787.5 317.0 791.9C315.9 796.3 314.1 803.2 314.4 806.2C314.7 809.2 319.0 809.0 319.0 810.1C319.0 811.2 315.2 810.5 314.6 812.8C314.0 815.1 316.0 822.4 315.4 824.0C314.9 825.7 312.4 824.8 311.3 822.5C310.3 820.2 309.5 814.5 309.3 810.3C309.1 806.0 310.0 801.4 310.3 797.0C310.7 792.6 310.5 788.0 311.3 783.7C312.2 779.5 314.3 775.6 315.4 771.5C316.5 767.4 317.0 762.6 318.0 759.2C319.0 755.8 319.6 753.2 321.5 751.0C323.5 748.9 326.8 747.5 329.7 746.5C332.6 745.4 335.8 745.0 338.9 744.9C342.0 744.8 345.2 745.1 348.1 745.9Z" fill="#DEA27C"/>
<path d="M346.0 713.3C348.3 712.9 350.5 713.6 352.2 714.1C353.9 714.6 355.4 714.8 356.3 716.3C357.1 717.9 357.5 720.6 357.5 723.5C357.5 726.4 357.0 730.6 356.3 733.7C355.5 736.8 354.4 740.0 353.2 741.9C352.0 743.7 350.6 744.7 349.1 744.9C347.6 745.2 345.7 744.2 344.0 743.4C342.3 742.5 340.1 741.9 338.9 739.8C337.7 737.7 337.3 733.5 336.9 730.6C336.4 727.7 336.0 724.8 336.3 722.5C336.7 720.1 337.3 717.9 338.9 716.3C340.5 714.8 343.8 713.6 346.0 713.3Z" fill="#DEA27C"/>
<path d="M329.0 817.4C329.2 821.7 329.6 835.1 329.9 842.9C330.2 850.8 330.8 860.8 330.9 864.4M346.0 813.3C346.3 817.4 346.5 831.7 347.3 837.8C348.0 844.0 350.1 848.0 350.6 850.1" stroke="#D0651F" stroke-width="1.6" fill="none"/>
<path d="M329.5 820.0C330.9 820.6 335.3 823.7 337.9 823.7C340.5 823.8 344.0 821.0 345.2 820.5M330.5 836.3C331.8 836.9 335.6 840.3 337.9 840.1C340.2 839.9 343.2 835.8 344.2 835.0M331.2 846.2C332.2 846.7 335.1 849.3 336.9 849.3C338.6 849.3 340.9 846.7 341.7 846.2M346.0 813.5C347.1 814.0 350.3 816.8 352.2 816.6C354.0 816.4 356.4 813.2 357.3 812.5M346.0 826.8C347.1 827.3 350.4 830.0 352.2 829.9C353.9 829.7 355.7 826.5 356.5 825.8M347.6 837.8C348.3 838.2 350.9 840.2 352.2 840.1C353.5 839.9 354.9 837.5 355.4 837.0" stroke="#C8621F" stroke-width="4.2" fill="none" stroke-linejoin="round"/>
<path d="M330.7 863.4C330.7 861.5 333.8 861.7 335.8 862.3C337.9 863.0 341.2 865.6 343.0 867.4C344.8 869.3 346.9 871.7 346.6 873.6C346.2 875.5 342.7 878.9 340.9 878.9C339.2 878.9 337.5 876.1 335.8 873.6C334.1 871.0 330.7 865.2 330.7 863.4Z" fill="#D98A55"/><path d="M333.0 863.4C332.9 861.8 334.8 862.4 336.3 863.1C337.9 863.9 340.9 866.2 342.5 867.9C344.0 869.6 345.7 871.8 345.5 873.4C345.4 874.9 342.9 877.3 341.5 877.1C340.0 877.0 338.3 874.8 336.9 872.5C335.4 870.2 333.1 864.9 333.0 863.4Z" fill="#FBF3EE"/>
<path d="M350.6 847.0C350.2 845.1 351.8 844.0 353.7 845.0C355.6 845.9 360.7 850.4 361.9 852.6C363.1 854.9 361.8 857.8 360.9 858.5C359.9 859.1 358.0 858.3 356.3 856.4C354.6 854.5 351.1 848.9 350.6 847.0Z" fill="#D98A55"/><path d="M352.2 847.0C351.7 845.5 352.7 845.1 354.2 846.0C355.7 846.9 360.1 850.8 361.2 852.6C362.2 854.4 361.1 856.3 360.3 856.7C359.6 857.1 358.1 856.8 356.8 855.2C355.4 853.6 352.6 848.5 352.2 847.0Z" fill="#FBF3EE"/>
<path d="M606.1 742.9C609.0 743.8 612.4 745.2 614.3 747.0C616.1 748.9 616.3 750.6 617.3 754.2C618.3 757.7 619.2 764.0 620.4 768.5C621.6 772.9 623.0 777.3 624.5 780.7C625.9 784.1 628.4 786.0 629.1 788.9C629.7 791.8 629.3 796.5 628.6 798.1C627.8 799.6 625.2 799.1 624.5 798.3C623.8 797.4 625.1 795.4 624.3 793.0C623.4 790.6 621.0 787.2 619.4 783.8C617.7 780.4 615.4 775.1 614.3 772.6C613.1 770.0 612.6 765.7 612.2 768.5C611.8 771.2 611.4 783.8 611.7 788.9C612.0 794.0 613.7 796.0 614.3 799.1C614.9 802.2 615.2 803.9 615.3 807.3C615.4 810.7 615.1 814.9 614.8 819.5C614.4 824.1 613.8 831.1 613.2 834.8C612.7 838.6 611.2 840.3 611.4 842.0C611.6 843.7 612.8 843.7 614.3 845.0C615.7 846.4 619.2 848.4 619.9 850.1C620.6 851.8 619.5 854.7 618.5 855.2C617.6 855.8 616.0 854.8 614.3 853.4C612.5 852.0 609.5 849.3 608.1 847.1C606.8 844.8 606.7 842.8 606.1 839.9C605.5 837.0 604.9 834.0 604.6 829.7C604.2 825.5 604.3 815.3 604.0 814.4C603.8 813.6 603.7 820.4 603.0 824.6C602.3 828.9 601.0 835.7 600.0 839.9C598.9 844.2 597.9 846.9 596.9 850.1C595.9 853.4 593.4 856.9 594.0 859.3C594.7 861.7 599.3 862.6 601.0 864.4C602.7 866.3 604.4 868.7 604.0 870.6C603.7 872.4 600.6 875.7 598.9 875.7C597.2 875.7 595.5 872.8 593.8 870.6C592.1 868.4 589.6 864.4 588.7 862.4C587.9 860.4 588.8 861.2 588.7 858.3C588.6 855.4 588.5 849.8 588.2 845.0C588.0 840.3 587.5 834.8 587.2 829.7C586.9 824.6 586.5 817.8 586.7 814.4C586.9 811.0 587.9 812.2 588.2 809.3C588.6 806.4 588.3 801.3 588.7 797.1C589.2 792.8 591.1 788.9 590.8 783.8C590.4 778.7 588.7 767.6 586.7 766.4C584.6 765.2 580.5 772.9 578.5 776.6C576.6 780.4 576.0 784.5 575.0 788.9C573.9 793.3 572.1 800.2 572.4 803.2C572.7 806.2 577.0 806.0 577.0 807.1C577.0 808.2 573.2 807.5 572.6 809.8C572.0 812.1 574.0 819.4 573.4 821.0C572.9 822.7 570.4 821.8 569.3 819.5C568.3 817.2 567.5 811.5 567.3 807.3C567.1 803.0 568.0 798.4 568.3 794.0C568.7 789.6 568.5 785.0 569.3 780.7C570.2 776.5 572.3 772.6 573.4 768.5C574.5 764.4 575.0 759.6 576.0 756.2C577.0 752.8 577.6 750.2 579.5 748.0C581.5 745.9 584.8 744.5 587.7 743.5C590.6 742.4 593.8 742.0 596.9 741.9C600.0 741.8 603.2 742.1 606.1 742.9Z" fill="#4C7B77"/>
<path d="M604.0 710.3C606.3 709.9 608.5 710.6 610.2 711.1C611.9 711.6 613.4 711.8 614.3 713.3C615.1 714.9 615.5 717.6 615.5 720.5C615.5 723.4 615.0 727.6 614.3 730.7C613.5 733.8 612.4 737.0 611.2 738.9C610.0 740.7 608.6 741.7 607.1 741.9C605.6 742.2 603.7 741.2 602.0 740.4C600.3 739.5 598.1 738.9 596.9 736.8C595.7 734.7 595.3 730.5 594.9 727.6C594.4 724.7 594.0 721.8 594.3 719.5C594.7 717.1 595.3 714.9 596.9 713.3C598.5 711.8 601.8 710.6 604.0 710.3Z" fill="#4C7B77"/>
<path d="M579.5 748.0C578.3 749.4 577.0 752.8 576.0 756.2C575.0 759.6 574.5 764.4 573.4 768.5C572.3 772.6 570.2 776.5 569.3 780.7C568.5 785.0 568.7 789.6 568.3 794.0C568.0 798.4 567.1 803.0 567.3 807.3C567.5 811.5 568.6 817.4 569.3 819.5C570.1 821.6 571.7 822.1 571.9 820.0C572.1 818.0 570.4 811.6 570.4 807.3C570.3 802.9 571.0 798.4 571.4 794.0C571.8 789.6 572.0 785.0 572.9 780.7C573.8 776.5 575.8 772.6 577.0 768.5C578.2 764.4 578.9 759.6 580.1 756.2C581.2 752.8 583.7 749.4 583.6 748.0C583.5 746.7 580.8 746.7 579.5 748.0Z" fill="#62ABA4" opacity="0.75"/>
<path d="M583.6 775.6L590.8 775.6L590.8 786.8L583.6 786.8Z" fill="#223F3D"/><path d="M589.2 787.4C587.9 787.7 582.8 788.3 581.1 789.4C579.4 790.5 578.7 791.9 579.0 794.0C579.4 796.1 581.9 799.1 583.1 802.2C584.3 805.2 585.5 809.0 586.2 812.4C586.9 815.8 587.2 818.3 587.2 822.6C587.2 826.8 586.2 832.8 586.2 837.9C586.2 843.0 586.7 848.3 587.2 853.2C587.7 858.1 588.9 865.1 589.2 867.5" stroke="#223F3D" stroke-width="3.6" fill="none" stroke-linecap="round"/><path d="M589.8 819.5L594.9 819.5L594.9 831.8L589.8 831.8ZM581.6 835.9L588.7 835.9L588.7 844.0L581.6 844.0Z" fill="#223F3D"/><path d="M590.8 844.5C592.0 845.0 595.9 847.8 597.9 847.1C600.0 846.3 602.2 841.1 603.0 839.9" stroke="#223F3D" stroke-width="6" fill="none"/><path d="M613.2 782.8C614.3 784.0 618.3 786.7 619.4 789.9C620.4 793.1 619.5 797.6 619.4 802.2C619.2 806.8 618.3 814.1 618.3 817.5C618.3 820.9 619.5 820.0 619.4 822.6C619.2 825.1 617.8 829.0 617.3 832.8C616.8 836.5 616.5 843.0 616.3 845.0" stroke="#223F3D" stroke-width="3.4" fill="none" stroke-linecap="round"/><path d="M610.2 832.8L617.3 828.7L618.3 835.9L611.2 839.9Z" fill="#223F3D"/>
<path d="M588.7 863.4C588.7 861.5 591.8 861.7 593.8 862.4C595.9 863.1 598.8 865.8 601.0 867.5C603.2 869.2 607.5 870.7 607.1 872.6C606.8 874.5 601.2 878.8 598.9 878.9C596.7 879.1 595.5 876.2 593.8 873.6C592.1 871.0 588.7 865.3 588.7 863.4Z" fill="#2E5956"/><path d="M591.0 863.4C590.9 861.9 592.8 862.4 594.3 863.2C595.9 864.0 598.7 866.4 600.5 868.0C602.3 869.6 605.2 871.1 605.1 872.6C604.9 874.1 601.2 877.2 599.5 877.2C597.8 877.2 596.3 874.9 594.9 872.6C593.4 870.3 591.1 865.0 591.0 863.4Z" fill="#8FE3DA"/>
<path d="M606.6 844.0C606.2 842.1 609.0 843.6 611.7 845.0C614.4 846.5 621.7 850.3 622.9 852.7C624.1 855.1 620.3 858.7 618.9 859.3C617.4 860.0 616.3 859.0 614.3 856.5C612.2 853.9 607.0 845.9 606.6 844.0Z" fill="#2E5956"/><path d="M608.6 845.0C608.2 843.4 610.1 844.4 612.2 845.5C614.3 846.7 620.4 850.2 621.4 852.2C622.4 854.1 619.4 856.8 618.3 857.3C617.2 857.8 616.4 857.3 614.8 855.2C613.2 853.2 609.1 846.7 608.6 845.0Z" fill="#8FE3DA"/>
</g>
<text transform="translate(378.17 852.79) scale(0.2251 0.2549)" font-size="200" font-weight="bold" fill="#D95319" style="white-space:pre" stroke="#D95319" stroke-width="5">KAFO</text>
<text transform="translate(642.53 853.90) scale(0.2137 0.2623)" font-size="200" font-weight="bold" fill="#1FA198" style="white-space:pre" stroke="#1FA198" stroke-width="5">ABLE</text>
<!-- 30_c.svg -->
<g id="panel-c">
<path d="M141 1301.2H487M486.6 1302V1770" fill="none" stroke="#333" stroke-width="1.6" stroke-dasharray="1.4 1.7"/>
<path d="M140.75 1088V1625M140.75 1088.75H147M140.75 1195.75H147M140.75 1302.5H147M140.75 1409.75H147M140.75 1516.75H147M140.75 1624.25H147M371 1770.6H1060M371.75 1770.6V1762.5M486.25 1770.6V1762.5M600.75 1770.6V1762.5M715.25 1770.6V1762.5M830 1770.6V1762.5M944.25 1770.6V1762.5M1059.25 1770.6V1762.5" fill="none" stroke="#262626" stroke-width="1.9"/>
<path d="M218.25 1195V1322M218.25 1552.5V1595M193.75 1195H243M193.75 1595H243" fill="none" stroke="#222" stroke-width="2.9"/>
<rect x="168.6" y="1323.6" width="99.3" height="227.3" fill="#D95319" stroke="#050505" stroke-width="3.2"/>
<path d="M168 1422H268.5" stroke="#050505" stroke-width="3.2"/>
<path d="M345.75 1309.25V1317.5M345.75 1450V1573.25M321.25 1309.25H370.5M321.25 1573.25H370.5" fill="none" stroke="#222" stroke-width="2.9"/>
<rect x="296.1" y="1319.1" width="99.3" height="129.3" fill="#1FA198" stroke="#050505" stroke-width="3.2"/>
<path d="M295.5 1367H396" stroke="#050505" stroke-width="3.2"/>
<path d="M555 1557H575M650.75 1557H653M555 1531.25V1583M653 1531.25V1583" fill="none" stroke="#222" stroke-width="2.9"/>
<rect x="576.6" y="1506.1" width="72.55" height="103.05" fill="#1FA198" stroke="#050505" stroke-width="3.2"/>
<path d="M628.75 1505.5V1609.75" stroke="#050505" stroke-width="3.2"/>
<path d="M536.75 1686.25H682.25M793.5 1686.25H797M536.75 1660.5V1712M797 1660.5V1712" fill="none" stroke="#222" stroke-width="2.9"/>
<rect x="683.85" y="1635.35" width="108.05" height="102.8" fill="#D95319" stroke="#050505" stroke-width="3.2"/>
<path d="M745.75 1634.75V1738.75" stroke="#050505" stroke-width="3.2"/>
<circle cx="344.5" cy="1089.5" r="10.5" fill="#1FA198" stroke="#000" stroke-width="1.2"/><circle cx="344.5" cy="1089.5" r="3.6" fill="#000"/>
<circle cx="455" cy="1558.25" r="10.5" fill="#1FA198" stroke="#000" stroke-width="1.2"/><circle cx="455" cy="1558.25" r="3.6" fill="#000"/>
<circle cx="813.4" cy="1557.1" r="10.5" fill="#1FA198" stroke="#000" stroke-width="1.2"/><circle cx="813.4" cy="1557.1" r="3.6" fill="#000"/>
<circle cx="1005.5" cy="1686.75" r="10.5" fill="#D95319" stroke="#000" stroke-width="1.2"/><circle cx="1005.5" cy="1686.75" r="3.6" fill="#000"/>
<g fill="none" stroke="#000" stroke-width="7.6" stroke-linecap="round" stroke-linejoin="round">
<path d="M444.2 1285.5C445.3 1287.6 448.1 1293.4 450.5 1298.1C453.0 1302.7 455.9 1308.1 458.9 1313.5C461.9 1318.8 465.9 1324.6 468.7 1330.2C471.5 1335.8 473.6 1341.4 475.7 1347.0C477.8 1352.6 479.4 1358.9 481.3 1363.8C483.1 1368.6 484.5 1372.6 486.8 1376.3C489.2 1380.1 491.7 1383.8 495.2 1386.1C498.7 1388.4 503.6 1390.1 507.8 1390.3C512.0 1390.5 516.6 1389.8 520.4 1387.5C524.1 1385.2 528.1 1380.1 530.2 1376.3C532.2 1372.6 532.9 1369.3 532.9 1365.2C532.9 1361.0 531.5 1357.0 530.2 1351.2C528.8 1345.4 526.2 1337.2 524.6 1330.2C522.9 1323.2 521.5 1316.5 520.4 1309.3C519.2 1302.1 517.8 1293.7 517.6 1286.9C517.3 1280.2 518.0 1275.3 519.0 1268.8C519.9 1262.2 522.2 1253.6 523.2 1247.8C524.1 1242.0 524.8 1238.3 524.8 1233.8C524.8 1229.4 524.4 1225.0 523.2 1221.3C522.0 1217.5 519.7 1213.8 517.6 1211.5C515.5 1209.1 514.1 1208.0 510.6 1207.3C507.1 1206.6 501.3 1206.8 496.6 1207.3C492.0 1207.7 487.3 1208.4 482.6 1210.1C478.0 1211.7 473.1 1214.3 468.7 1217.1C464.3 1219.9 460.1 1223.1 456.1 1226.8C452.1 1230.6 448.0 1235.5 444.9 1239.4C441.9 1243.4 439.3 1247.1 437.9 1250.6C436.5 1254.1 436.5 1257.6 436.5 1260.4C436.5 1263.2 437.7 1266.2 437.9 1267.4"/>
<path d="M490.8 1205.9C490.3 1204.3 489.0 1199.4 488.2 1196.1C487.5 1192.8 486.6 1189.4 486.1 1186.3C485.7 1183.3 484.9 1180.5 485.4 1177.9C486.0 1175.4 487.8 1172.7 489.6 1171.0C491.5 1169.2 494.1 1167.9 496.6 1167.5C499.2 1167.0 502.7 1167.1 505.0 1168.2C507.3 1169.2 509.3 1171.4 510.6 1173.8C511.9 1176.1 512.6 1179.3 512.7 1182.1C512.8 1184.9 511.5 1188.0 511.3 1190.5C511.1 1193.1 510.9 1194.9 511.3 1197.5C511.6 1200.1 512.5 1203.6 513.4 1205.9C514.3 1208.2 516.3 1210.5 516.9 1211.5"/>
<path d="M473.1 1213.6C472.6 1211.8 471.2 1206.7 470.1 1203.1C469.0 1199.5 467.2 1194.9 466.6 1191.9C465.9 1188.9 465.6 1187.1 466.2 1184.9C466.7 1182.8 468.3 1180.3 470.1 1179.1C471.9 1177.8 474.9 1177.1 477.1 1177.2C479.2 1177.4 481.4 1178.6 482.9 1180.0C484.4 1181.4 485.6 1184.7 486.1 1185.6"/>
<path d="M458.5 1222.0C457.9 1220.0 455.9 1213.9 454.7 1210.1C453.5 1206.2 451.9 1201.7 451.2 1198.9C450.6 1196.1 450.2 1195.1 450.8 1193.3C451.4 1191.5 453.1 1189.1 454.7 1188.0C456.3 1186.9 458.5 1186.5 460.3 1186.6C462.1 1186.7 464.5 1187.5 465.6 1188.4C466.7 1189.3 466.8 1191.3 467.0 1191.9"/>
<path d="M444.5 1233.1C443.9 1231.4 441.8 1226.0 440.7 1222.6C439.6 1219.3 438.4 1215.2 437.9 1212.9C437.5 1210.5 437.5 1209.9 438.2 1208.4C438.9 1206.9 440.5 1205.0 442.1 1204.1C443.7 1203.1 446.1 1202.6 447.7 1202.7C449.4 1202.7 451.0 1203.7 451.9 1204.5C452.8 1205.3 453.1 1206.8 453.3 1207.3"/>
<path d="M435.8 1252.7C435.0 1251.9 432.5 1249.8 431.0 1247.8C429.4 1245.8 427.7 1243.3 426.5 1240.8C425.3 1238.4 424.2 1235.7 424.0 1233.1C423.7 1230.6 424.2 1227.6 425.1 1225.4C426.0 1223.3 427.9 1221.3 429.6 1220.3C431.2 1219.2 433.6 1219.0 435.1 1219.2C436.7 1219.3 438.2 1220.6 439.1 1221.3C439.9 1222.0 440.2 1223.0 440.5 1223.3"/>
</g>
<circle cx="487.5" cy="1301.2" r="16.2" fill="#F3F1F7" stroke="#1a1a1a" stroke-width="2.1"/>
<path d="M470 1300.9H487M486.6 1301V1318" fill="none" stroke="#333" stroke-width="1.6" stroke-dasharray="1.4 1.7"/>
<path d="M505.6 1447.3L537.6 1432.8V1440.3H619.5V1432.8L651.3 1447.3L619.5 1461.8V1454.3H537.6V1461.8Z" fill="#7C8493" stroke="#0a0a0a" stroke-width="4.2" stroke-linejoin="miter"/>
<path d="M686.3 1309.5L700.1 1325.5H692.7V1386.5H700.1L686.3 1403L672.5 1386.5H679.9V1325.5H672.5Z" fill="#7C8493" stroke="#0a0a0a" stroke-width="4.2" stroke-linejoin="miter"/>
<circle cx="683.8" cy="1440.8" r="22.3" fill="#9E9E9C" stroke="#0a0a0a" stroke-width="4.2"/>
<path d="M1040 1560H1050.5V1683H1043.5" fill="none" stroke="#000" stroke-width="2"/>
</g>
<g id="fig-c">
<ellipse cx="905" cy="1418.2" rx="30" ry="18" fill="none" stroke="#000" stroke-width="4.3"/>
<polygon points="856.5,1434.9 884.7,1444.1 874.6,1444.9 904.4,1472.3 910.8,1470.3 907.2,1483.6 878.2,1474.3 889.1,1473.5 860.9,1446.6 852.5,1448.2" fill="#858C9A" stroke="#111" stroke-width="1.8" stroke-linejoin="miter"/>
<polygon points="920.1,1487.2 931.3,1478.4 933.8,1482.4 955.9,1478.4 949.9,1475.5 969.6,1477.9 967.2,1487.6 965.6,1485.2 943.8,1488.4 949.9,1491.2" fill="#858C9A" stroke="#111" stroke-width="1.5" stroke-linejoin="miter"/>
<clipPath id="clipC"><path d="M977.5 1105.5C980.0 1107.0 986.3 1107.5 992.1 1109.0C998.0 1110.4 1007.0 1111.0 1012.8 1114.1C1018.5 1117.3 1023.1 1122.1 1026.5 1127.9C1030.0 1133.6 1032.0 1141.6 1033.4 1148.5C1034.8 1155.4 1033.7 1161.4 1035.1 1169.1C1036.6 1176.9 1040.1 1186.3 1042.0 1194.9C1043.9 1203.5 1046.0 1213.0 1046.3 1220.7C1046.6 1228.5 1044.6 1233.3 1043.7 1241.4C1042.9 1249.4 1042.0 1261.4 1041.1 1268.9C1040.3 1276.3 1040.1 1281.8 1038.6 1286.1C1037.0 1290.3 1034.0 1293.5 1031.7 1294.3C1029.4 1295.1 1026.5 1292.9 1024.8 1290.9C1023.1 1288.9 1021.7 1286.0 1021.4 1282.3C1021.1 1278.6 1022.7 1272.8 1023.1 1268.9C1023.5 1264.9 1025.4 1261.7 1023.9 1258.6C1022.5 1255.5 1015.5 1252.0 1014.5 1250.3C1013.5 1248.6 1016.3 1248.3 1017.9 1248.2C1019.5 1248.2 1023.4 1253.1 1023.9 1250.0C1024.5 1246.8 1021.8 1235.1 1021.4 1229.3C1020.9 1223.6 1022.8 1221.3 1021.4 1215.6C1019.9 1209.8 1015.2 1200.4 1012.8 1194.9C1010.3 1189.5 1008.8 1181.5 1006.7 1182.9C1004.7 1184.3 1002.9 1195.8 1000.7 1203.5C998.6 1211.3 995.7 1220.7 993.9 1229.3C992.0 1237.9 990.1 1248.0 989.6 1255.1C989.0 1262.3 989.1 1266.6 990.4 1272.3C991.7 1278.0 995.7 1283.0 997.3 1289.5C998.9 1296.0 998.9 1302.1 999.9 1311.5C1000.9 1320.9 1002.6 1334.4 1003.3 1345.9C1004.0 1357.4 1003.7 1370.3 1004.2 1380.3C1004.6 1390.3 1004.7 1397.5 1005.9 1406.1C1007.0 1414.7 1010.0 1423.3 1011.0 1431.9C1012.1 1440.5 1011.9 1449.1 1011.9 1457.7C1011.9 1466.3 1010.9 1475.7 1011.0 1483.5C1011.2 1491.2 1011.6 1498.4 1012.8 1504.1C1013.9 1509.8 1016.8 1513.8 1017.9 1517.9C1019.1 1521.9 1020.5 1525.6 1019.6 1528.2C1018.8 1530.8 1015.3 1533.6 1012.8 1533.3C1010.2 1533.1 1007.6 1530.2 1004.2 1526.5C1000.7 1522.7 996.7 1516.4 992.1 1511.0C987.5 1505.5 980.5 1498.4 976.7 1493.8C972.8 1489.2 969.8 1486.2 968.9 1483.5C968.1 1480.7 969.6 1479.0 971.5 1477.5C973.4 1475.9 977.8 1474.4 980.1 1474.0C982.4 1473.6 985.3 1477.6 985.3 1474.9C985.3 1472.2 981.8 1464.8 980.1 1457.7C978.4 1450.5 976.7 1441.3 974.9 1431.9C973.2 1422.4 971.8 1410.1 969.8 1400.9C967.8 1391.8 964.9 1385.5 962.9 1376.9C960.9 1368.3 959.2 1357.4 957.7 1349.3C956.3 1341.3 956.0 1329.9 954.3 1328.7C952.6 1327.6 950.0 1336.7 947.4 1342.5C944.8 1348.2 941.4 1356.8 938.8 1363.1C936.2 1369.4 933.4 1376.0 932.0 1380.3C930.5 1384.6 932.0 1384.6 930.2 1388.9C928.5 1393.2 923.9 1400.4 921.6 1406.1C919.3 1411.8 917.2 1419.0 916.5 1423.3C915.8 1427.6 917.6 1429.0 917.3 1431.9C917.0 1434.8 916.3 1438.3 914.8 1440.5C913.2 1442.6 909.9 1445.1 907.9 1444.8C905.9 1444.5 904.7 1442.1 902.7 1438.8C900.7 1435.5 898.1 1429.6 895.8 1425.0C893.5 1420.4 890.3 1415.6 889.0 1411.3C887.7 1407.0 887.2 1402.2 888.1 1399.2C889.0 1396.2 892.1 1394.6 894.1 1393.2C896.1 1391.8 899.0 1392.8 900.1 1390.6C901.3 1388.5 901.0 1384.9 901.0 1380.3C901.0 1375.7 900.1 1370.3 900.1 1363.1C900.1 1355.9 900.3 1345.9 901.0 1337.3C901.7 1328.7 902.7 1320.1 904.4 1311.5C906.2 1302.9 909.5 1292.3 911.3 1285.7C913.2 1279.2 914.6 1278.9 915.6 1272.3C916.6 1265.8 917.3 1255.1 917.3 1246.5C917.3 1237.9 916.6 1229.0 915.6 1220.7C914.6 1212.4 912.9 1196.7 911.3 1196.7C909.7 1196.7 908.5 1212.4 906.2 1220.7C903.9 1229.0 900.7 1237.9 897.6 1246.5C894.4 1255.1 890.1 1265.8 887.2 1272.3C884.4 1278.9 882.9 1280.1 880.4 1285.7C877.8 1291.4 874.6 1300.6 871.8 1306.4C868.9 1312.1 865.2 1314.1 863.2 1320.1C861.2 1326.1 860.0 1335.9 859.7 1342.5C859.4 1349.1 860.9 1354.2 861.5 1359.7C862.0 1365.1 863.7 1372.0 863.2 1375.1C862.6 1378.3 860.0 1379.2 858.0 1378.6C856.0 1378.0 853.4 1375.4 851.1 1371.7C848.8 1368.0 845.8 1361.4 844.3 1356.2C842.7 1351.1 841.7 1345.9 841.7 1340.8C841.7 1335.6 843.0 1333.0 844.3 1325.3C845.5 1317.5 848.0 1300.9 849.4 1294.3C850.8 1287.8 851.1 1290.3 852.9 1286.1C854.6 1281.8 857.2 1275.5 859.7 1268.9C862.3 1262.3 866.0 1254.5 868.3 1246.5C870.6 1238.5 872.1 1229.3 873.5 1220.7C874.9 1212.1 876.1 1203.5 876.9 1194.9C877.8 1186.3 877.9 1176.3 878.6 1169.1C879.4 1162.0 879.8 1157.7 881.2 1152.0C882.7 1146.2 883.9 1139.9 887.2 1134.8C890.5 1129.6 895.0 1124.4 901.0 1121.0C907.0 1117.6 916.2 1116.3 923.4 1114.1C930.5 1112.0 942.6 1110.1 944.0 1108.1C945.4 1106.1 935.1 1105.7 932.0 1102.1C928.8 1098.5 927.1 1093.2 925.1 1086.6C923.1 1080.0 920.9 1071.1 919.9 1062.5C918.9 1053.9 918.2 1043.0 919.1 1035.0C919.9 1027.0 921.8 1019.8 925.1 1014.4C928.4 1008.9 934.0 1004.9 938.8 1002.4C943.7 999.8 948.3 997.8 954.3 998.9C960.3 1000.1 970.5 1004.6 974.9 1009.2C979.4 1013.8 979.8 1021.3 981.0 1026.4C982.1 1031.6 981.1 1036.7 981.8 1040.2C982.5 1043.6 985.3 1044.2 985.3 1047.1C985.3 1049.9 983.2 1054.5 981.8 1057.4C980.4 1060.2 977.8 1060.0 976.7 1064.3C975.5 1068.6 974.9 1077.2 974.9 1083.2C975.0 1089.2 976.6 1096.6 977.0 1100.4C977.4 1104.1 975.0 1104.1 977.5 1105.5Z"/></clipPath>
<g clip-path="url(#clipC)"><path d="M977.5 1105.5C980.0 1107.0 986.3 1107.5 992.1 1109.0C998.0 1110.4 1007.0 1111.0 1012.8 1114.1C1018.5 1117.3 1023.1 1122.1 1026.5 1127.9C1030.0 1133.6 1032.0 1141.6 1033.4 1148.5C1034.8 1155.4 1033.7 1161.4 1035.1 1169.1C1036.6 1176.9 1040.1 1186.3 1042.0 1194.9C1043.9 1203.5 1046.0 1213.0 1046.3 1220.7C1046.6 1228.5 1044.6 1233.3 1043.7 1241.4C1042.9 1249.4 1042.0 1261.4 1041.1 1268.9C1040.3 1276.3 1040.1 1281.8 1038.6 1286.1C1037.0 1290.3 1034.0 1293.5 1031.7 1294.3C1029.4 1295.1 1026.5 1292.9 1024.8 1290.9C1023.1 1288.9 1021.7 1286.0 1021.4 1282.3C1021.1 1278.6 1022.7 1272.8 1023.1 1268.9C1023.5 1264.9 1025.4 1261.7 1023.9 1258.6C1022.5 1255.5 1015.5 1252.0 1014.5 1250.3C1013.5 1248.6 1016.3 1248.3 1017.9 1248.2C1019.5 1248.2 1023.4 1253.1 1023.9 1250.0C1024.5 1246.8 1021.8 1235.1 1021.4 1229.3C1020.9 1223.6 1022.8 1221.3 1021.4 1215.6C1019.9 1209.8 1015.2 1200.4 1012.8 1194.9C1010.3 1189.5 1008.8 1181.5 1006.7 1182.9C1004.7 1184.3 1002.9 1195.8 1000.7 1203.5C998.6 1211.3 995.7 1220.7 993.9 1229.3C992.0 1237.9 990.1 1248.0 989.6 1255.1C989.0 1262.3 989.1 1266.6 990.4 1272.3C991.7 1278.0 995.7 1283.0 997.3 1289.5C998.9 1296.0 998.9 1302.1 999.9 1311.5C1000.9 1320.9 1002.6 1334.4 1003.3 1345.9C1004.0 1357.4 1003.7 1370.3 1004.2 1380.3C1004.6 1390.3 1004.7 1397.5 1005.9 1406.1C1007.0 1414.7 1010.0 1423.3 1011.0 1431.9C1012.1 1440.5 1011.9 1449.1 1011.9 1457.7C1011.9 1466.3 1010.9 1475.7 1011.0 1483.5C1011.2 1491.2 1011.6 1498.4 1012.8 1504.1C1013.9 1509.8 1016.8 1513.8 1017.9 1517.9C1019.1 1521.9 1020.5 1525.6 1019.6 1528.2C1018.8 1530.8 1015.3 1533.6 1012.8 1533.3C1010.2 1533.1 1007.6 1530.2 1004.2 1526.5C1000.7 1522.7 996.7 1516.4 992.1 1511.0C987.5 1505.5 980.5 1498.4 976.7 1493.8C972.8 1489.2 969.8 1486.2 968.9 1483.5C968.1 1480.7 969.6 1479.0 971.5 1477.5C973.4 1475.9 977.8 1474.4 980.1 1474.0C982.4 1473.6 985.3 1477.6 985.3 1474.9C985.3 1472.2 981.8 1464.8 980.1 1457.7C978.4 1450.5 976.7 1441.3 974.9 1431.9C973.2 1422.4 971.8 1410.1 969.8 1400.9C967.8 1391.8 964.9 1385.5 962.9 1376.9C960.9 1368.3 959.2 1357.4 957.7 1349.3C956.3 1341.3 956.0 1329.9 954.3 1328.7C952.6 1327.6 950.0 1336.7 947.4 1342.5C944.8 1348.2 941.4 1356.8 938.8 1363.1C936.2 1369.4 933.4 1376.0 932.0 1380.3C930.5 1384.6 932.0 1384.6 930.2 1388.9C928.5 1393.2 923.9 1400.4 921.6 1406.1C919.3 1411.8 917.2 1419.0 916.5 1423.3C915.8 1427.6 917.6 1429.0 917.3 1431.9C917.0 1434.8 916.3 1438.3 914.8 1440.5C913.2 1442.6 909.9 1445.1 907.9 1444.8C905.9 1444.5 904.7 1442.1 902.7 1438.8C900.7 1435.5 898.1 1429.6 895.8 1425.0C893.5 1420.4 890.3 1415.6 889.0 1411.3C887.7 1407.0 887.2 1402.2 888.1 1399.2C889.0 1396.2 892.1 1394.6 894.1 1393.2C896.1 1391.8 899.0 1392.8 900.1 1390.6C901.3 1388.5 901.0 1384.9 901.0 1380.3C901.0 1375.7 900.1 1370.3 900.1 1363.1C900.1 1355.9 900.3 1345.9 901.0 1337.3C901.7 1328.7 902.7 1320.1 904.4 1311.5C906.2 1302.9 909.5 1292.3 911.3 1285.7C913.2 1279.2 914.6 1278.9 915.6 1272.3C916.6 1265.8 917.3 1255.1 917.3 1246.5C917.3 1237.9 916.6 1229.0 915.6 1220.7C914.6 1212.4 912.9 1196.7 911.3 1196.7C909.7 1196.7 908.5 1212.4 906.2 1220.7C903.9 1229.0 900.7 1237.9 897.6 1246.5C894.4 1255.1 890.1 1265.8 887.2 1272.3C884.4 1278.9 882.9 1280.1 880.4 1285.7C877.8 1291.4 874.6 1300.6 871.8 1306.4C868.9 1312.1 865.2 1314.1 863.2 1320.1C861.2 1326.1 860.0 1335.9 859.7 1342.5C859.4 1349.1 860.9 1354.2 861.5 1359.7C862.0 1365.1 863.7 1372.0 863.2 1375.1C862.6 1378.3 860.0 1379.2 858.0 1378.6C856.0 1378.0 853.4 1375.4 851.1 1371.7C848.8 1368.0 845.8 1361.4 844.3 1356.2C842.7 1351.1 841.7 1345.9 841.7 1340.8C841.7 1335.6 843.0 1333.0 844.3 1325.3C845.5 1317.5 848.0 1300.9 849.4 1294.3C850.8 1287.8 851.1 1290.3 852.9 1286.1C854.6 1281.8 857.2 1275.5 859.7 1268.9C862.3 1262.3 866.0 1254.5 868.3 1246.5C870.6 1238.5 872.1 1229.3 873.5 1220.7C874.9 1212.1 876.1 1203.5 876.9 1194.9C877.8 1186.3 877.9 1176.3 878.6 1169.1C879.4 1162.0 879.8 1157.7 881.2 1152.0C882.7 1146.2 883.9 1139.9 887.2 1134.8C890.5 1129.6 895.0 1124.4 901.0 1121.0C907.0 1117.6 916.2 1116.3 923.4 1114.1C930.5 1112.0 942.6 1110.1 944.0 1108.1C945.4 1106.1 935.1 1105.7 932.0 1102.1C928.8 1098.5 927.1 1093.2 925.1 1086.6C923.1 1080.0 920.9 1071.1 919.9 1062.5C918.9 1053.9 918.2 1043.0 919.1 1035.0C919.9 1027.0 921.8 1019.8 925.1 1014.4C928.4 1008.9 934.0 1004.9 938.8 1002.4C943.7 999.8 948.3 997.8 954.3 998.9C960.3 1000.1 970.5 1004.6 974.9 1009.2C979.4 1013.8 979.8 1021.3 981.0 1026.4C982.1 1031.6 981.1 1036.7 981.8 1040.2C982.5 1043.6 985.3 1044.2 985.3 1047.1C985.3 1049.9 983.2 1054.5 981.8 1057.4C980.4 1060.2 977.8 1060.0 976.7 1064.3C975.5 1068.6 974.9 1077.2 974.9 1083.2C975.0 1089.2 976.6 1096.6 977.0 1100.4C977.4 1104.1 975.0 1104.1 977.5 1105.5Z" fill="url(#gFig)"/><g filter="url(#blur5)" opacity="0.8"><path d="M977.5 1105.5C980.0 1107.0 986.3 1107.5 992.1 1109.0C998.0 1110.4 1007.0 1111.0 1012.8 1114.1C1018.5 1117.3 1023.1 1122.1 1026.5 1127.9C1030.0 1133.6 1032.0 1141.6 1033.4 1148.5C1034.8 1155.4 1033.7 1161.4 1035.1 1169.1C1036.6 1176.9 1040.1 1186.3 1042.0 1194.9C1043.9 1203.5 1046.0 1213.0 1046.3 1220.7C1046.6 1228.5 1044.6 1233.3 1043.7 1241.4C1042.9 1249.4 1042.0 1261.4 1041.1 1268.9C1040.3 1276.3 1040.1 1281.8 1038.6 1286.1C1037.0 1290.3 1034.0 1293.5 1031.7 1294.3C1029.4 1295.1 1026.5 1292.9 1024.8 1290.9C1023.1 1288.9 1021.7 1286.0 1021.4 1282.3C1021.1 1278.6 1022.7 1272.8 1023.1 1268.9C1023.5 1264.9 1025.4 1261.7 1023.9 1258.6C1022.5 1255.5 1015.5 1252.0 1014.5 1250.3C1013.5 1248.6 1016.3 1248.3 1017.9 1248.2C1019.5 1248.2 1023.4 1253.1 1023.9 1250.0C1024.5 1246.8 1021.8 1235.1 1021.4 1229.3C1020.9 1223.6 1022.8 1221.3 1021.4 1215.6C1019.9 1209.8 1015.2 1200.4 1012.8 1194.9C1010.3 1189.5 1008.8 1181.5 1006.7 1182.9C1004.7 1184.3 1002.9 1195.8 1000.7 1203.5C998.6 1211.3 995.7 1220.7 993.9 1229.3C992.0 1237.9 990.1 1248.0 989.6 1255.1C989.0 1262.3 989.1 1266.6 990.4 1272.3C991.7 1278.0 995.7 1283.0 997.3 1289.5C998.9 1296.0 998.9 1302.1 999.9 1311.5C1000.9 1320.9 1002.6 1334.4 1003.3 1345.9C1004.0 1357.4 1003.7 1370.3 1004.2 1380.3C1004.6 1390.3 1004.7 1397.5 1005.9 1406.1C1007.0 1414.7 1010.0 1423.3 1011.0 1431.9C1012.1 1440.5 1011.9 1449.1 1011.9 1457.7C1011.9 1466.3 1010.9 1475.7 1011.0 1483.5C1011.2 1491.2 1011.6 1498.4 1012.8 1504.1C1013.9 1509.8 1016.8 1513.8 1017.9 1517.9C1019.1 1521.9 1020.5 1525.6 1019.6 1528.2C1018.8 1530.8 1015.3 1533.6 1012.8 1533.3C1010.2 1533.1 1007.6 1530.2 1004.2 1526.5C1000.7 1522.7 996.7 1516.4 992.1 1511.0C987.5 1505.5 980.5 1498.4 976.7 1493.8C972.8 1489.2 969.8 1486.2 968.9 1483.5C968.1 1480.7 969.6 1479.0 971.5 1477.5C973.4 1475.9 977.8 1474.4 980.1 1474.0C982.4 1473.6 985.3 1477.6 985.3 1474.9C985.3 1472.2 981.8 1464.8 980.1 1457.7C978.4 1450.5 976.7 1441.3 974.9 1431.9C973.2 1422.4 971.8 1410.1 969.8 1400.9C967.8 1391.8 964.9 1385.5 962.9 1376.9C960.9 1368.3 959.2 1357.4 957.7 1349.3C956.3 1341.3 956.0 1329.9 954.3 1328.7C952.6 1327.6 950.0 1336.7 947.4 1342.5C944.8 1348.2 941.4 1356.8 938.8 1363.1C936.2 1369.4 933.4 1376.0 932.0 1380.3C930.5 1384.6 932.0 1384.6 930.2 1388.9C928.5 1393.2 923.9 1400.4 921.6 1406.1C919.3 1411.8 917.2 1419.0 916.5 1423.3C915.8 1427.6 917.6 1429.0 917.3 1431.9C917.0 1434.8 916.3 1438.3 914.8 1440.5C913.2 1442.6 909.9 1445.1 907.9 1444.8C905.9 1444.5 904.7 1442.1 902.7 1438.8C900.7 1435.5 898.1 1429.6 895.8 1425.0C893.5 1420.4 890.3 1415.6 889.0 1411.3C887.7 1407.0 887.2 1402.2 888.1 1399.2C889.0 1396.2 892.1 1394.6 894.1 1393.2C896.1 1391.8 899.0 1392.8 900.1 1390.6C901.3 1388.5 901.0 1384.9 901.0 1380.3C901.0 1375.7 900.1 1370.3 900.1 1363.1C900.1 1355.9 900.3 1345.9 901.0 1337.3C901.7 1328.7 902.7 1320.1 904.4 1311.5C906.2 1302.9 909.5 1292.3 911.3 1285.7C913.2 1279.2 914.6 1278.9 915.6 1272.3C916.6 1265.8 917.3 1255.1 917.3 1246.5C917.3 1237.9 916.6 1229.0 915.6 1220.7C914.6 1212.4 912.9 1196.7 911.3 1196.7C909.7 1196.7 908.5 1212.4 906.2 1220.7C903.9 1229.0 900.7 1237.9 897.6 1246.5C894.4 1255.1 890.1 1265.8 887.2 1272.3C884.4 1278.9 882.9 1280.1 880.4 1285.7C877.8 1291.4 874.6 1300.6 871.8 1306.4C868.9 1312.1 865.2 1314.1 863.2 1320.1C861.2 1326.1 860.0 1335.9 859.7 1342.5C859.4 1349.1 860.9 1354.2 861.5 1359.7C862.0 1365.1 863.7 1372.0 863.2 1375.1C862.6 1378.3 860.0 1379.2 858.0 1378.6C856.0 1378.0 853.4 1375.4 851.1 1371.7C848.8 1368.0 845.8 1361.4 844.3 1356.2C842.7 1351.1 841.7 1345.9 841.7 1340.8C841.7 1335.6 843.0 1333.0 844.3 1325.3C845.5 1317.5 848.0 1300.9 849.4 1294.3C850.8 1287.8 851.1 1290.3 852.9 1286.1C854.6 1281.8 857.2 1275.5 859.7 1268.9C862.3 1262.3 866.0 1254.5 868.3 1246.5C870.6 1238.5 872.1 1229.3 873.5 1220.7C874.9 1212.1 876.1 1203.5 876.9 1194.9C877.8 1186.3 877.9 1176.3 878.6 1169.1C879.4 1162.0 879.8 1157.7 881.2 1152.0C882.7 1146.2 883.9 1139.9 887.2 1134.8C890.5 1129.6 895.0 1124.4 901.0 1121.0C907.0 1117.6 916.2 1116.3 923.4 1114.1C930.5 1112.0 942.6 1110.1 944.0 1108.1C945.4 1106.1 935.1 1105.7 932.0 1102.1C928.8 1098.5 927.1 1093.2 925.1 1086.6C923.1 1080.0 920.9 1071.1 919.9 1062.5C918.9 1053.9 918.2 1043.0 919.1 1035.0C919.9 1027.0 921.8 1019.8 925.1 1014.4C928.4 1008.9 934.0 1004.9 938.8 1002.4C943.7 999.8 948.3 997.8 954.3 998.9C960.3 1000.1 970.5 1004.6 974.9 1009.2C979.4 1013.8 979.8 1021.3 981.0 1026.4C982.1 1031.6 981.1 1036.7 981.8 1040.2C982.5 1043.6 985.3 1044.2 985.3 1047.1C985.3 1049.9 983.2 1054.5 981.8 1057.4C980.4 1060.2 977.8 1060.0 976.7 1064.3C975.5 1068.6 974.9 1077.2 974.9 1083.2C975.0 1089.2 976.6 1096.6 977.0 1100.4C977.4 1104.1 975.0 1104.1 977.5 1105.5Z" fill="none" stroke="#93A0B9" stroke-width="10"/></g></g>
<path d="M894.1 1393.2C892.1 1394.3 889.0 1396.2 888.1 1399.2C887.2 1402.2 887.7 1407.0 889.0 1411.3C890.3 1415.6 893.5 1420.4 895.8 1425.0C898.1 1429.6 900.7 1435.5 902.7 1438.8C904.7 1442.1 905.9 1444.5 907.9 1444.8C909.9 1445.1 913.3 1442.6 914.8 1440.5C916.2 1438.4 917.7 1435.6 916.8 1432.2C916.0 1428.8 911.9 1424.5 909.6 1420.2C907.2 1415.9 904.3 1411.0 902.7 1406.4C901.1 1401.9 901.6 1394.9 900.1 1392.7C898.7 1390.5 896.1 1392.1 894.1 1393.2Z" fill="#93A4C1" opacity="0.8"/>
<path d="M980.1 1474.0C977.5 1473.8 973.4 1475.9 971.5 1477.5C969.6 1479.0 968.1 1480.7 968.9 1483.5C969.8 1486.2 973.4 1490.0 976.7 1493.8C980.0 1497.6 986.4 1506.1 988.7 1506.2C991.0 1506.2 990.7 1498.7 990.4 1494.1C990.1 1489.5 988.7 1482.0 987.0 1478.7C985.3 1475.3 982.7 1474.2 980.1 1474.0Z" fill="#A3B3CE" opacity="0.8"/>
<circle cx="955.2" cy="1280.8" r="9.3" fill="none" stroke="#000" stroke-width="1.6"/>
<path d="M955.2 1280.8V1271.5A9.3 9.3 0 0 0 945.9000000000001 1280.8ZM955.2 1280.8V1290.1A9.3 9.3 0 0 0 964.5 1280.8Z" fill="#000"/>
<path d="M954.9000000000001 1290.1V1435.5" stroke="#000" stroke-width="1.5" fill="none"/>
<ellipse cx="955.9" cy="1459.2" rx="17" ry="7.3" fill="#7C8493" stroke="#000" stroke-width="2.9"/>
</g>
<text transform="translate(41.07 974.21) scale(0.2603 0.2682)" font-size="200" font-weight="bold" fill="#000" style="white-space:pre">c</text>
<text transform="translate(132.27 979.82) scale(0.2097 0.2126)" font-size="200" font-weight="bold" fill="#000" style="white-space:pre">PCOM - Foot relative position at Toe-off</text>
<text transform="translate(84.15 1099.48) scale(0.1566 0.1592)" font-size="200" font-weight="bold" fill="#000" style="white-space:pre">0.1</text>
<text transform="translate(67.74 1207.28) scale(0.1572 0.1592)" font-size="200" font-weight="bold" fill="#000" style="white-space:pre">0.05</text>
<text transform="translate(112.06 1314.28) scale(0.1547 0.1592)" font-size="200" font-weight="bold" fill="#000" style="white-space:pre">0</text>
<text transform="translate(57.14 1421.48) scale(0.1573 0.1592)" font-size="200" font-weight="bold" fill="#000" style="white-space:pre">-0.05</text>
<text transform="translate(73.33 1528.48) scale(0.1586 0.1592)" font-size="200" font-weight="bold" fill="#000" style="white-space:pre">-0.1</text>
<text transform="translate(57.14 1635.78) scale(0.1569 0.1592)" font-size="200" font-weight="bold" fill="#000" style="white-space:pre">-0.15</text>
<text transform="translate(27.32 1712.24) rotate(-90) scale(0.1480 0.1567)" font-size="200" font-weight="bold" fill="#000" style="white-space:pre">Anteroposterior relative position PCOM - Foot  (m)</text>
<text transform="translate(337.16 1803.78) scale(0.1555 0.1592)" font-size="200" font-weight="bold" fill="#000" style="white-space:pre">-0.05</text>
<text transform="translate(477.98 1803.78) scale(0.1526 0.1592)" font-size="200" font-weight="bold" fill="#000" style="white-space:pre">0</text>
<text transform="translate(570.35 1803.78) scale(0.1561 0.1592)" font-size="200" font-weight="bold" fill="#000" style="white-space:pre">0.05</text>
<text transform="translate(694.35 1803.78) scale(0.1562 0.1592)" font-size="200" font-weight="bold" fill="#000" style="white-space:pre">0.1</text>
<text transform="translate(800.15 1803.78) scale(0.1566 0.1592)" font-size="200" font-weight="bold" fill="#000" style="white-space:pre">0.15</text>
<text transform="translate(922.64 1803.78) scale(0.1580 0.1592)" font-size="200" font-weight="bold" fill="#000" style="white-space:pre">0.2</text>
<text transform="translate(1028.85 1803.78) scale(0.1561 0.1592)" font-size="200" font-weight="bold" fill="#000" style="white-space:pre">0.25</text>
<text transform="translate(390.05 1861.32) scale(0.1500 0.1519)" font-size="200" font-weight="bold" fill="#000" style="white-space:pre">Mediolateral relative position PCOM - Foot (m)</text>
<text transform="translate(714.84 1464.86) scale(0.1588 0.1704)" font-size="200" font-weight="bold" fill="#000" style="white-space:pre">PCOM</text>
<text transform="translate(515.22 1421.00) scale(0.1295 0.1413)" font-size="200" font-weight="bold" fill="#000" style="white-space:pre">M-L</text>
<text transform="translate(561.27 1425.05) scale(0.0782 0.1020)" font-size="200" font-weight="bold" fill="#000" style="white-space:pre">distance</text>
<text transform="translate(654.75 1407.48) rotate(-90) scale(0.1269 0.1504)" font-size="200" font-weight="bold" fill="#000" style="white-space:pre">A-P</text>
<text transform="translate(659.52 1367.49) rotate(-90) scale(0.0798 0.1156)" font-size="200" font-weight="bold" fill="#000" style="white-space:pre">distance</text>
<text transform="translate(1057.64 1645.86) scale(0.2599 0.2635)" font-size="200" font-weight="bold" fill="#000" style="white-space:pre">*</text>
<!-- 40_d.svg -->
<g id="panel-d" fill="none" stroke-linecap="round" stroke-linejoin="round">
<path d="M1240.0 933.2C1241.7 935.0 1247.7 940.5 1250.0 943.8C1252.3 947.0 1254.0 949.0 1253.8 952.5C1253.5 956.0 1250.0 961.5 1248.8 965.0C1247.5 968.5 1247.5 972.1 1246.2 973.8C1245.0 975.4 1242.1 974.8 1241.2 975.0" stroke="#D95319" stroke-width="15"/>
<circle cx="1262.0" cy="952.5" r="9.5" fill="#D95319" stroke="none"/>
<path d="M1333.2 863.2C1332.9 864.6 1331.4 866.8 1331.2 871.2C1331.1 875.7 1331.9 883.5 1332.5 890.0C1333.1 896.5 1334.2 905.0 1335.0 910.0C1335.8 915.0 1336.0 917.5 1337.0 920.0C1338.0 922.5 1341.0 921.7 1341.2 925.0C1341.5 928.3 1339.5 934.2 1338.8 940.0C1338.0 945.8 1337.6 953.8 1337.0 960.0C1336.4 966.2 1335.3 974.6 1335.0 977.5" stroke="#1FA198" stroke-width="15"/>
<path d="M1541.2 937.5C1541.9 939.4 1543.5 945.4 1545.0 948.8C1546.5 952.1 1548.8 955.2 1550.0 957.5C1551.2 959.8 1552.4 960.0 1552.0 962.5C1551.6 965.0 1548.9 969.6 1547.5 972.5C1546.1 975.4 1544.2 978.5 1543.8 980.0C1543.3 981.5 1544.8 981.0 1545.0 981.2" stroke="#D95319" stroke-width="15"/>
<path d="M1635.0 877.5C1634.0 878.5 1629.9 880.4 1628.8 883.8C1627.6 887.1 1627.8 891.5 1628.0 897.5C1628.2 903.5 1629.0 912.9 1630.0 920.0C1631.0 927.1 1632.7 934.6 1633.8 940.0C1634.8 945.4 1636.0 948.3 1636.2 952.5C1636.5 956.7 1635.7 960.8 1635.5 965.0C1635.3 969.2 1635.1 975.4 1635.0 977.5" stroke="#1FA198" stroke-width="15"/>
<path d="M1232.0 1080.0C1233.5 1082.1 1238.5 1088.8 1241.2 1092.5C1244.0 1096.2 1246.8 1098.8 1248.8 1102.5C1250.7 1106.2 1251.9 1110.8 1253.0 1115.0C1254.1 1119.2 1255.4 1123.8 1255.5 1127.5C1255.6 1131.2 1254.8 1134.7 1253.8 1137.5C1252.8 1140.3 1251.0 1141.5 1249.5 1144.5C1248.0 1147.5 1246.5 1151.9 1245.0 1155.5C1243.5 1159.1 1241.8 1162.6 1240.5 1166.2C1239.2 1169.9 1238.2 1174.7 1237.5 1177.5C1236.8 1180.3 1236.5 1182.1 1236.2 1183.0" stroke="#D95319" stroke-width="15"/>
<path d="M1331.2 1094.2C1331.7 1095.6 1333.0 1099.8 1333.8 1102.5C1334.5 1105.2 1334.5 1106.8 1335.5 1110.5C1336.5 1114.2 1338.5 1121.3 1340.0 1125.0C1341.5 1128.7 1344.1 1129.6 1344.5 1132.5C1344.9 1135.4 1343.2 1139.2 1342.5 1142.5C1341.8 1145.8 1340.9 1149.2 1340.0 1152.5C1339.1 1155.8 1337.0 1159.2 1337.0 1162.5C1337.0 1165.8 1339.7 1169.6 1340.0 1172.5C1340.3 1175.4 1339.0 1178.8 1338.8 1180.0" stroke="#1FA198" stroke-width="13"/>
<circle cx="1330.5" cy="1093.8" r="8.5" fill="#1FA198" stroke="none"/>
<path d="M1541.8 1102.5C1541.2 1104.6 1539.5 1110.8 1538.8 1115.0C1538.0 1119.2 1537.1 1123.3 1537.5 1127.5C1537.9 1131.7 1539.9 1135.8 1541.2 1140.0C1542.6 1144.2 1545.1 1148.3 1545.5 1152.5C1545.9 1156.7 1544.3 1160.6 1543.8 1165.0C1543.2 1169.4 1542.3 1176.5 1542.0 1178.8" stroke="#D95319" stroke-width="15"/>
<path d="M1631.2 1104.5C1631.9 1106.2 1634.5 1109.9 1635.0 1115.0C1635.5 1120.1 1634.3 1128.8 1634.5 1135.0C1634.7 1141.2 1636.4 1147.1 1636.2 1152.5C1636.1 1157.9 1634.8 1162.9 1633.8 1167.5C1632.7 1172.1 1630.6 1177.9 1630.0 1180.0" stroke="#1FA198" stroke-width="15"/>
<path d="M1241.2 1296.2C1240.4 1296.9 1237.0 1296.9 1236.2 1300.0C1235.5 1303.1 1237.0 1310.0 1237.0 1315.0C1237.0 1320.0 1235.5 1325.8 1236.2 1330.0C1237.0 1334.2 1238.8 1338.1 1241.2 1340.0C1243.8 1341.9 1250.0 1339.2 1251.2 1341.2C1252.5 1343.3 1249.0 1347.7 1248.8 1352.5C1248.5 1357.3 1250.4 1365.2 1250.0 1370.0C1249.6 1374.8 1247.7 1379.0 1246.2 1381.2C1244.8 1383.5 1242.1 1383.3 1241.2 1383.8" stroke="#D95319" stroke-width="15"/>
<path d="M1343.8 1285.8C1342.7 1286.0 1338.8 1284.4 1337.5 1287.5C1336.2 1290.6 1337.0 1299.2 1336.2 1304.2C1335.5 1309.3 1334.1 1313.3 1333.2 1318.0C1332.4 1322.7 1330.5 1328.8 1331.2 1332.5C1332.0 1336.2 1335.0 1338.5 1337.5 1340.0C1340.0 1341.5 1346.0 1340.4 1346.2 1341.2C1346.5 1342.1 1337.8 1342.4 1338.8 1345.0C1339.7 1347.6 1349.0 1352.8 1351.8 1357.0C1354.5 1361.2 1354.5 1366.2 1355.5 1370.0C1356.5 1373.8 1359.1 1377.8 1358.0 1380.0C1356.9 1382.2 1348.8 1381.5 1348.8 1383.0C1348.8 1384.5 1356.5 1387.8 1358.0 1388.8" stroke="#1FA198" stroke-width="11"/>
<circle cx="1341.2" cy="1285.8" r="9.0" fill="#1FA198" stroke="none"/>
<circle cx="1337.0" cy="1338.8" r="13.8" fill="#1FA198" stroke="none"/>
<circle cx="1357.5" cy="1387.5" r="7.5" fill="#1FA198" stroke="none"/>
<path d="M1540.8 1268.8C1541.0 1272.3 1541.9 1282.3 1542.5 1290.0C1543.1 1297.7 1544.2 1306.7 1544.5 1315.0C1544.8 1323.3 1544.8 1331.7 1544.5 1340.0C1544.2 1348.3 1543.5 1357.7 1543.0 1365.0C1542.5 1372.3 1541.5 1380.6 1541.2 1383.8" stroke="#D95319" stroke-width="15"/>
<path d="M1630.0 1255.5C1629.8 1258.3 1628.3 1266.8 1628.8 1272.5C1629.2 1278.2 1631.2 1283.8 1632.5 1290.0C1633.8 1296.2 1634.8 1303.8 1636.2 1310.0C1637.7 1316.2 1639.7 1321.7 1641.2 1327.5C1642.8 1333.3 1645.3 1338.8 1645.8 1345.0C1646.2 1351.2 1644.7 1359.6 1643.8 1365.0C1642.8 1370.4 1641.4 1374.4 1640.0 1377.5C1638.6 1380.6 1636.2 1382.7 1635.5 1383.8" stroke="#1FA198" stroke-width="15"/>
<path d="M1235.5 1486.2C1237.1 1487.9 1242.0 1492.7 1245.0 1496.2C1248.0 1499.8 1251.8 1504.0 1253.8 1507.5C1255.8 1511.0 1257.2 1515.2 1257.0 1517.5C1256.8 1519.8 1252.4 1519.0 1252.5 1521.2C1252.6 1523.5 1257.9 1527.7 1257.5 1531.2C1257.1 1534.8 1252.5 1539.0 1250.0 1542.5C1247.5 1546.0 1244.8 1548.8 1242.5 1552.5C1240.2 1556.2 1237.9 1560.8 1236.2 1565.0C1234.6 1569.2 1232.7 1574.2 1232.5 1577.5C1232.3 1580.8 1234.6 1583.8 1235.0 1585.0" stroke="#D95319" stroke-width="15"/>
<path d="M1334.5 1465.0C1335.0 1467.1 1337.0 1472.5 1337.5 1477.5C1338.0 1482.5 1337.3 1489.2 1337.5 1495.0C1337.7 1500.8 1339.0 1507.1 1338.8 1512.5C1338.5 1517.9 1337.1 1522.9 1336.2 1527.5C1335.4 1532.1 1334.4 1533.8 1333.8 1540.0C1333.1 1546.2 1332.7 1557.1 1332.5 1565.0C1332.3 1572.9 1332.5 1583.8 1332.5 1587.5" stroke="#1FA198" stroke-width="15"/>
<path d="M1526.2 1526.2C1527.3 1528.1 1529.4 1534.4 1532.5 1537.5C1535.6 1540.6 1541.2 1542.9 1545.0 1545.0C1548.8 1547.1 1553.8 1547.1 1555.0 1550.0C1556.2 1552.9 1554.6 1558.8 1552.5 1562.5C1550.4 1566.2 1546.7 1568.8 1542.5 1572.5C1538.3 1576.2 1530.0 1582.9 1527.5 1585.0" stroke="#D95319" stroke-width="15"/>
<path d="M1630.0 1487.5C1629.9 1491.2 1628.9 1503.3 1629.5 1510.0C1630.1 1516.7 1632.4 1522.5 1633.8 1527.5C1635.1 1532.5 1637.1 1535.0 1637.5 1540.0C1637.9 1545.0 1637.1 1552.9 1636.2 1557.5C1635.4 1562.1 1633.3 1562.5 1632.5 1567.5C1631.7 1572.5 1631.5 1584.2 1631.2 1587.5" stroke="#1FA198" stroke-width="15"/>
<path d="M1242.0 1669.2C1241.6 1672.4 1239.2 1682.0 1239.5 1688.0C1239.8 1694.0 1241.8 1699.7 1243.8 1705.5C1245.7 1711.3 1249.4 1717.6 1251.2 1723.0C1253.1 1728.4 1253.5 1733.0 1255.0 1738.0C1256.5 1743.0 1259.6 1748.8 1260.0 1753.0C1260.4 1757.2 1258.8 1759.7 1257.5 1763.0C1256.2 1766.3 1254.0 1769.7 1252.5 1773.0C1251.0 1776.3 1250.4 1780.1 1248.8 1783.0C1247.1 1785.9 1243.5 1789.2 1242.5 1790.5" stroke="#D95319" stroke-width="15"/>
<path d="M1335.0 1689.2C1334.6 1691.8 1332.3 1698.6 1332.5 1704.2C1332.7 1709.9 1334.6 1716.1 1336.2 1723.0C1337.9 1729.9 1341.4 1739.2 1342.5 1745.5C1343.6 1751.8 1343.6 1755.1 1343.0 1760.5C1342.4 1765.9 1340.1 1772.8 1338.8 1778.0C1337.4 1783.2 1335.6 1789.5 1335.0 1791.8" stroke="#1FA198" stroke-width="15"/>
<path d="M1537.5 1669.2C1537.1 1672.0 1534.6 1679.9 1535.0 1685.5C1535.4 1691.1 1538.1 1696.8 1540.0 1703.0C1541.9 1709.2 1544.6 1716.8 1546.2 1723.0C1547.9 1729.2 1550.2 1734.7 1550.0 1740.5C1549.8 1746.3 1546.5 1752.2 1545.0 1758.0C1543.5 1763.8 1542.3 1769.9 1541.2 1775.5C1540.2 1781.1 1539.2 1789.0 1538.8 1791.8" stroke="#D95319" stroke-width="15"/>
<path d="M1633.8 1666.0C1633.1 1668.0 1630.6 1672.2 1630.0 1678.0C1629.4 1683.8 1629.8 1693.4 1630.0 1700.5C1630.2 1707.6 1630.2 1713.8 1631.2 1720.5C1632.3 1727.2 1635.6 1733.4 1636.2 1740.5C1636.9 1747.6 1635.2 1754.5 1635.0 1763.0C1634.8 1771.5 1635.0 1787.0 1635.0 1791.8" stroke="#1FA198" stroke-width="15"/>
<path d="M1250 846.25V985M1336.25 846.25V985M1543 846.25V985M1633.75 846.25V985M1250 1053.25V1187.5M1337.5 1053.25V1187.5M1543 1053.25V1187.5M1635 1053.25V1187.5M1250 1257V1390.75M1339.25 1257V1390.75M1543 1257V1390.75M1635.5 1257V1390.75M1250 1456.25V1594.5M1339.25 1456.25V1594.5M1543 1456.25V1594.5M1635.5 1456.25V1594.5M1250 1664.25V1798M1339.25 1664.25V1798M1543 1664.25V1798M1635.5 1664.25V1798" stroke="#333" stroke-width="1.6" stroke-dasharray="2 3" stroke-linecap="butt"/>
<path d="M1426.75 1695V1762.5H1476.25" stroke="#000" stroke-width="5" stroke-linecap="butt" stroke-linejoin="miter"/>
</g>
<text transform="translate(1266.48 838.50) scale(0.1858 0.2138)" font-size="200" font-weight="bold" fill="#000" style="white-space:pre">P1</text>
<text transform="translate(1560.66 838.50) scale(0.1917 0.2107)" font-size="200" font-weight="bold" fill="#000" style="white-space:pre">P2</text>
<text transform="translate(1266.42 1045.58) scale(0.1908 0.2077)" font-size="200" font-weight="bold" fill="#000" style="white-space:pre">P3</text>
<text transform="translate(1560.69 1046.00) scale(0.1891 0.2138)" font-size="200" font-weight="bold" fill="#000" style="white-space:pre">P4</text>
<text transform="translate(1266.44 1240.58) scale(0.1892 0.2107)" font-size="200" font-weight="bold" fill="#000" style="white-space:pre">P5</text>
<text transform="translate(1560.67 1240.58) scale(0.1908 0.2077)" font-size="200" font-weight="bold" fill="#000" style="white-space:pre">P6</text>
<text transform="translate(1266.48 1444.25) scale(0.1861 0.2101)" font-size="200" font-weight="bold" fill="#000" style="white-space:pre">P7</text>
<text transform="translate(1560.68 1443.84) scale(0.1900 0.2042)" font-size="200" font-weight="bold" fill="#000" style="white-space:pre">P8</text>
<text transform="translate(1266.42 1646.08) scale(0.1908 0.2077)" font-size="200" font-weight="bold" fill="#000" style="white-space:pre">P9</text>
<text transform="translate(1550.10 1646.08) scale(0.1963 0.2077)" font-size="200" font-weight="bold" fill="#000" style="white-space:pre">P10</text>
<text transform="translate(1116.36 804.48) scale(0.2931 0.3082)" font-size="200" font-weight="bold" fill="#000" style="white-space:pre">d</text>
<text transform="translate(1460.99 765.57) scale(0.2120 0.2246)" font-size="200" font-weight="bold" fill="#000" style="white-space:pre">PCOM trajectory</text>
<text transform="translate(1171.35 1418.05) rotate(-90) scale(0.1502 0.1583)" font-size="200" font-weight="bold" fill="#000" style="white-space:pre">Anteroposterior</text>
<text transform="translate(1359.86 1866.18) scale(0.1566 0.1582)" font-size="200" font-weight="bold" fill="#000" style="white-space:pre">Mediolateral</text>
<text transform="translate(1427.93 1785.06) scale(0.0899 0.0933)" font-size="200" font-weight="bold" fill="#000" style="white-space:pre">0.4 m</text>
<text transform="translate(1415.79 1750.58) rotate(-90) scale(0.0910 0.1056)" font-size="200" font-weight="bold" fill="#000" style="white-space:pre">0.5 m</text>
<!-- 45_figd.svg -->
<g id="fig-d">
<path d="M1868.2 1006.8L1906.8 1009.2M1874.6 1027.0L1903.6 1027.0M1879.4 1056.0L1897.2 1056.0" stroke="#111" stroke-width="4" fill="none"/>
<path d="M1909.3 1006.0L1900.4 1060.0L1892.3 1122.9" stroke="#111" stroke-width="5.5" fill="none" stroke-linecap="round"/>
<path d="M1806.1 1064.0L1806.1 1118.0" stroke="#111" stroke-width="5" fill="none" stroke-linecap="round"/>
<path d="M1805.3 1081.0L1792.4 1114.8M1898.8 1089.0L1910.1 1114.8" stroke="#111" stroke-width="1.6" fill="none"/>
<clipPath id="clipD"><path d="M1877.0 864.2C1878.9 867.4 1887.9 870.6 1892.3 873.8C1896.8 877.0 1900.4 879.2 1903.6 883.5C1906.8 887.8 1909.5 893.7 1911.7 899.6C1913.8 905.5 1914.4 912.5 1916.5 919.0C1918.7 925.4 1922.2 931.6 1924.6 938.3C1927.0 945.0 1929.3 953.1 1931.0 959.3C1932.8 965.4 1934.3 970.0 1935.1 975.4C1935.9 980.8 1935.6 986.1 1935.9 991.5C1936.1 996.9 1936.4 1003.6 1936.7 1007.6C1936.9 1011.7 1937.9 1013.0 1937.5 1015.7C1937.1 1018.4 1935.9 1022.7 1934.3 1023.7C1932.6 1024.8 1930.2 1022.9 1927.8 1022.1C1925.4 1021.3 1921.4 1023.5 1919.7 1018.9C1918.1 1014.3 1918.9 1000.6 1918.1 994.7C1917.3 988.8 1916.5 987.5 1914.9 983.4C1913.3 979.4 1911.1 975.9 1908.5 970.5C1905.8 965.2 1902.0 957.9 1898.8 951.2C1895.6 944.5 1891.9 936.2 1889.1 930.2C1886.3 924.3 1883.7 914.9 1881.9 915.7C1880.0 916.5 1880.1 927.8 1877.8 935.1C1875.5 942.3 1871.7 951.2 1868.2 959.3C1864.7 967.3 1858.2 977.3 1856.9 983.4C1855.5 989.6 1858.2 991.5 1860.1 996.3C1862.0 1001.2 1865.7 1006.6 1868.2 1012.5C1870.6 1018.4 1872.7 1024.6 1874.6 1031.8C1876.5 1039.1 1878.1 1048.5 1879.4 1056.0C1880.8 1063.5 1881.6 1070.9 1882.7 1076.9C1883.7 1083.0 1885.1 1084.3 1885.9 1092.3C1886.7 1100.2 1886.4 1113.8 1887.5 1124.5C1888.6 1135.2 1891.0 1146.0 1892.3 1156.7C1893.7 1167.5 1894.8 1178.2 1895.6 1189.0C1896.4 1199.7 1896.6 1210.5 1897.2 1221.2C1897.7 1232.0 1897.4 1244.1 1898.8 1253.5C1900.1 1262.9 1903.9 1272.0 1905.2 1277.6C1906.6 1283.3 1907.7 1284.6 1906.8 1287.3C1906.0 1290.0 1903.4 1292.7 1900.4 1293.8C1897.4 1294.8 1892.1 1295.6 1889.1 1293.8C1886.2 1291.9 1884.3 1287.9 1882.7 1282.5C1881.1 1277.1 1880.8 1269.0 1879.4 1261.5C1878.1 1254.0 1876.5 1245.4 1874.6 1237.3C1872.7 1229.3 1870.3 1219.9 1868.2 1213.2C1866.0 1206.4 1863.1 1198.7 1861.7 1197.0C1860.4 1195.4 1861.4 1201.9 1860.1 1203.5C1858.8 1205.1 1855.5 1207.2 1853.7 1206.7C1851.8 1206.2 1850.2 1203.8 1848.8 1200.3C1847.5 1196.8 1847.2 1191.4 1845.6 1185.8C1844.0 1180.1 1841.6 1173.4 1839.1 1166.4C1836.7 1159.4 1833.8 1151.9 1831.1 1143.8C1828.4 1135.8 1826.2 1126.6 1823.0 1118.0C1819.8 1109.5 1814.7 1100.7 1811.7 1092.3C1808.8 1083.8 1806.9 1073.3 1805.3 1067.3C1803.7 1061.2 1803.1 1060.6 1802.1 1056.0C1801.0 1051.4 1799.9 1046.6 1798.8 1039.9C1797.8 1033.1 1796.4 1022.7 1795.6 1015.7C1794.8 1008.7 1794.8 1000.9 1794.0 998.0C1793.2 995.0 1791.6 999.6 1790.8 998.0C1790.0 996.3 1790.1 992.0 1789.2 988.3C1788.2 984.5 1786.3 980.0 1785.1 975.4C1783.9 970.8 1782.3 964.9 1781.9 960.9C1781.5 956.8 1782.1 956.8 1782.7 951.2C1783.4 945.6 1785.1 935.1 1785.9 927.0C1786.8 919.0 1786.5 909.6 1787.6 902.8C1788.6 896.1 1789.7 891.3 1792.4 886.7C1795.1 882.2 1798.6 878.9 1803.7 875.4C1808.8 871.9 1816.6 868.3 1823.0 865.8C1829.5 863.2 1839.0 862.0 1842.4 860.1C1845.7 858.2 1843.3 857.3 1843.2 854.5C1843.0 851.7 1841.7 846.7 1841.6 843.2C1841.4 839.7 1841.4 837.6 1842.4 833.5C1843.3 829.5 1845.1 823.0 1847.2 819.0C1849.4 815.0 1852.6 811.5 1855.3 809.3C1858.0 807.2 1859.8 805.9 1863.3 806.1C1866.8 806.4 1873.0 807.7 1876.2 811.0C1879.4 814.2 1881.5 820.4 1882.7 825.5C1883.9 830.6 1883.7 836.7 1883.5 841.6C1883.2 846.4 1882.1 850.7 1881.1 854.5C1880.0 858.2 1875.1 860.9 1877.0 864.2Z"/></clipPath>
<g clip-path="url(#clipD)"><path d="M1877.0 864.2C1878.9 867.4 1887.9 870.6 1892.3 873.8C1896.8 877.0 1900.4 879.2 1903.6 883.5C1906.8 887.8 1909.5 893.7 1911.7 899.6C1913.8 905.5 1914.4 912.5 1916.5 919.0C1918.7 925.4 1922.2 931.6 1924.6 938.3C1927.0 945.0 1929.3 953.1 1931.0 959.3C1932.8 965.4 1934.3 970.0 1935.1 975.4C1935.9 980.8 1935.6 986.1 1935.9 991.5C1936.1 996.9 1936.4 1003.6 1936.7 1007.6C1936.9 1011.7 1937.9 1013.0 1937.5 1015.7C1937.1 1018.4 1935.9 1022.7 1934.3 1023.7C1932.6 1024.8 1930.2 1022.9 1927.8 1022.1C1925.4 1021.3 1921.4 1023.5 1919.7 1018.9C1918.1 1014.3 1918.9 1000.6 1918.1 994.7C1917.3 988.8 1916.5 987.5 1914.9 983.4C1913.3 979.4 1911.1 975.9 1908.5 970.5C1905.8 965.2 1902.0 957.9 1898.8 951.2C1895.6 944.5 1891.9 936.2 1889.1 930.2C1886.3 924.3 1883.7 914.9 1881.9 915.7C1880.0 916.5 1880.1 927.8 1877.8 935.1C1875.5 942.3 1871.7 951.2 1868.2 959.3C1864.7 967.3 1858.2 977.3 1856.9 983.4C1855.5 989.6 1858.2 991.5 1860.1 996.3C1862.0 1001.2 1865.7 1006.6 1868.2 1012.5C1870.6 1018.4 1872.7 1024.6 1874.6 1031.8C1876.5 1039.1 1878.1 1048.5 1879.4 1056.0C1880.8 1063.5 1881.6 1070.9 1882.7 1076.9C1883.7 1083.0 1885.1 1084.3 1885.9 1092.3C1886.7 1100.2 1886.4 1113.8 1887.5 1124.5C1888.6 1135.2 1891.0 1146.0 1892.3 1156.7C1893.7 1167.5 1894.8 1178.2 1895.6 1189.0C1896.4 1199.7 1896.6 1210.5 1897.2 1221.2C1897.7 1232.0 1897.4 1244.1 1898.8 1253.5C1900.1 1262.9 1903.9 1272.0 1905.2 1277.6C1906.6 1283.3 1907.7 1284.6 1906.8 1287.3C1906.0 1290.0 1903.4 1292.7 1900.4 1293.8C1897.4 1294.8 1892.1 1295.6 1889.1 1293.8C1886.2 1291.9 1884.3 1287.9 1882.7 1282.5C1881.1 1277.1 1880.8 1269.0 1879.4 1261.5C1878.1 1254.0 1876.5 1245.4 1874.6 1237.3C1872.7 1229.3 1870.3 1219.9 1868.2 1213.2C1866.0 1206.4 1863.1 1198.7 1861.7 1197.0C1860.4 1195.4 1861.4 1201.9 1860.1 1203.5C1858.8 1205.1 1855.5 1207.2 1853.7 1206.7C1851.8 1206.2 1850.2 1203.8 1848.8 1200.3C1847.5 1196.8 1847.2 1191.4 1845.6 1185.8C1844.0 1180.1 1841.6 1173.4 1839.1 1166.4C1836.7 1159.4 1833.8 1151.9 1831.1 1143.8C1828.4 1135.8 1826.2 1126.6 1823.0 1118.0C1819.8 1109.5 1814.7 1100.7 1811.7 1092.3C1808.8 1083.8 1806.9 1073.3 1805.3 1067.3C1803.7 1061.2 1803.1 1060.6 1802.1 1056.0C1801.0 1051.4 1799.9 1046.6 1798.8 1039.9C1797.8 1033.1 1796.4 1022.7 1795.6 1015.7C1794.8 1008.7 1794.8 1000.9 1794.0 998.0C1793.2 995.0 1791.6 999.6 1790.8 998.0C1790.0 996.3 1790.1 992.0 1789.2 988.3C1788.2 984.5 1786.3 980.0 1785.1 975.4C1783.9 970.8 1782.3 964.9 1781.9 960.9C1781.5 956.8 1782.1 956.8 1782.7 951.2C1783.4 945.6 1785.1 935.1 1785.9 927.0C1786.8 919.0 1786.5 909.6 1787.6 902.8C1788.6 896.1 1789.7 891.3 1792.4 886.7C1795.1 882.2 1798.6 878.9 1803.7 875.4C1808.8 871.9 1816.6 868.3 1823.0 865.8C1829.5 863.2 1839.0 862.0 1842.4 860.1C1845.7 858.2 1843.3 857.3 1843.2 854.5C1843.0 851.7 1841.7 846.7 1841.6 843.2C1841.4 839.7 1841.4 837.6 1842.4 833.5C1843.3 829.5 1845.1 823.0 1847.2 819.0C1849.4 815.0 1852.6 811.5 1855.3 809.3C1858.0 807.2 1859.8 805.9 1863.3 806.1C1866.8 806.4 1873.0 807.7 1876.2 811.0C1879.4 814.2 1881.5 820.4 1882.7 825.5C1883.9 830.6 1883.7 836.7 1883.5 841.6C1883.2 846.4 1882.1 850.7 1881.1 854.5C1880.0 858.2 1875.1 860.9 1877.0 864.2Z" fill="url(#gFigD)"/><g filter="url(#blur5)" opacity="0.9"><path d="M1877.0 864.2C1878.9 867.4 1887.9 870.6 1892.3 873.8C1896.8 877.0 1900.4 879.2 1903.6 883.5C1906.8 887.8 1909.5 893.7 1911.7 899.6C1913.8 905.5 1914.4 912.5 1916.5 919.0C1918.7 925.4 1922.2 931.6 1924.6 938.3C1927.0 945.0 1929.3 953.1 1931.0 959.3C1932.8 965.4 1934.3 970.0 1935.1 975.4C1935.9 980.8 1935.6 986.1 1935.9 991.5C1936.1 996.9 1936.4 1003.6 1936.7 1007.6C1936.9 1011.7 1937.9 1013.0 1937.5 1015.7C1937.1 1018.4 1935.9 1022.7 1934.3 1023.7C1932.6 1024.8 1930.2 1022.9 1927.8 1022.1C1925.4 1021.3 1921.4 1023.5 1919.7 1018.9C1918.1 1014.3 1918.9 1000.6 1918.1 994.7C1917.3 988.8 1916.5 987.5 1914.9 983.4C1913.3 979.4 1911.1 975.9 1908.5 970.5C1905.8 965.2 1902.0 957.9 1898.8 951.2C1895.6 944.5 1891.9 936.2 1889.1 930.2C1886.3 924.3 1883.7 914.9 1881.9 915.7C1880.0 916.5 1880.1 927.8 1877.8 935.1C1875.5 942.3 1871.7 951.2 1868.2 959.3C1864.7 967.3 1858.2 977.3 1856.9 983.4C1855.5 989.6 1858.2 991.5 1860.1 996.3C1862.0 1001.2 1865.7 1006.6 1868.2 1012.5C1870.6 1018.4 1872.7 1024.6 1874.6 1031.8C1876.5 1039.1 1878.1 1048.5 1879.4 1056.0C1880.8 1063.5 1881.6 1070.9 1882.7 1076.9C1883.7 1083.0 1885.1 1084.3 1885.9 1092.3C1886.7 1100.2 1886.4 1113.8 1887.5 1124.5C1888.6 1135.2 1891.0 1146.0 1892.3 1156.7C1893.7 1167.5 1894.8 1178.2 1895.6 1189.0C1896.4 1199.7 1896.6 1210.5 1897.2 1221.2C1897.7 1232.0 1897.4 1244.1 1898.8 1253.5C1900.1 1262.9 1903.9 1272.0 1905.2 1277.6C1906.6 1283.3 1907.7 1284.6 1906.8 1287.3C1906.0 1290.0 1903.4 1292.7 1900.4 1293.8C1897.4 1294.8 1892.1 1295.6 1889.1 1293.8C1886.2 1291.9 1884.3 1287.9 1882.7 1282.5C1881.1 1277.1 1880.8 1269.0 1879.4 1261.5C1878.1 1254.0 1876.5 1245.4 1874.6 1237.3C1872.7 1229.3 1870.3 1219.9 1868.2 1213.2C1866.0 1206.4 1863.1 1198.7 1861.7 1197.0C1860.4 1195.4 1861.4 1201.9 1860.1 1203.5C1858.8 1205.1 1855.5 1207.2 1853.7 1206.7C1851.8 1206.2 1850.2 1203.8 1848.8 1200.3C1847.5 1196.8 1847.2 1191.4 1845.6 1185.8C1844.0 1180.1 1841.6 1173.4 1839.1 1166.4C1836.7 1159.4 1833.8 1151.9 1831.1 1143.8C1828.4 1135.8 1826.2 1126.6 1823.0 1118.0C1819.8 1109.5 1814.7 1100.7 1811.7 1092.3C1808.8 1083.8 1806.9 1073.3 1805.3 1067.3C1803.7 1061.2 1803.1 1060.6 1802.1 1056.0C1801.0 1051.4 1799.9 1046.6 1798.8 1039.9C1797.8 1033.1 1796.4 1022.7 1795.6 1015.7C1794.8 1008.7 1794.8 1000.9 1794.0 998.0C1793.2 995.0 1791.6 999.6 1790.8 998.0C1790.0 996.3 1790.1 992.0 1789.2 988.3C1788.2 984.5 1786.3 980.0 1785.1 975.4C1783.9 970.8 1782.3 964.9 1781.9 960.9C1781.5 956.8 1782.1 956.8 1782.7 951.2C1783.4 945.6 1785.1 935.1 1785.9 927.0C1786.8 919.0 1786.5 909.6 1787.6 902.8C1788.6 896.1 1789.7 891.3 1792.4 886.7C1795.1 882.2 1798.6 878.9 1803.7 875.4C1808.8 871.9 1816.6 868.3 1823.0 865.8C1829.5 863.2 1839.0 862.0 1842.4 860.1C1845.7 858.2 1843.3 857.3 1843.2 854.5C1843.0 851.7 1841.7 846.7 1841.6 843.2C1841.4 839.7 1841.4 837.6 1842.4 833.5C1843.3 829.5 1845.1 823.0 1847.2 819.0C1849.4 815.0 1852.6 811.5 1855.3 809.3C1858.0 807.2 1859.8 805.9 1863.3 806.1C1866.8 806.4 1873.0 807.7 1876.2 811.0C1879.4 814.2 1881.5 820.4 1882.7 825.5C1883.9 830.6 1883.7 836.7 1883.5 841.6C1883.2 846.4 1882.1 850.7 1881.1 854.5C1880.0 858.2 1875.1 860.9 1877.0 864.2Z" fill="none" stroke="#B4BFD2" stroke-width="12"/></g></g>
<path d="M1801.3 952.8C1800.9 955.2 1799.5 962.2 1798.8 967.3C1798.2 972.4 1798.0 978.3 1797.2 983.4C1796.5 988.5 1794.8 995.5 1794.3 998.0" stroke="#fff" stroke-width="1.6" fill="none" opacity="0.8"/>
<path d="M1887.5 1225.2C1890.2 1219.2 1895.3 1220.5 1897.2 1225.2C1899.1 1230.0 1897.4 1244.7 1898.8 1253.5C1900.1 1262.2 1903.9 1272.0 1905.2 1277.6C1906.6 1283.3 1907.7 1284.6 1906.8 1287.3C1906.0 1290.0 1903.4 1292.7 1900.4 1293.8C1897.4 1294.8 1892.1 1295.6 1889.1 1293.8C1886.2 1291.9 1884.0 1287.9 1882.7 1282.5C1881.3 1277.1 1880.3 1271.1 1881.1 1261.5C1881.9 1252.0 1884.8 1231.3 1887.5 1225.2Z" fill="#A9B7CF" opacity="0.55"/>
<path d="M1789.2 1001.2L1789.2 1064.0L1790.8 1175.3" stroke="#111" stroke-width="7" fill="none" stroke-linecap="round" stroke-linejoin="round"/>
<path d="M1790.5 1165.6L1790.8 1176.1" stroke="#111" stroke-width="9" fill="none" stroke-linecap="round"/>
<path d="M1911.7 1001.2L1923.0 1007.6L1925.4 1015.7L1921.4 1060.0L1907.2 1184.9" stroke="#111" stroke-width="7.2" fill="none" stroke-linecap="round" stroke-linejoin="round"/>
<path d="M1909.3 1175.3L1907.5 1185.8" stroke="#111" stroke-width="9" fill="none" stroke-linecap="round"/>
<path d="M1910.9 999.6L1921.4 1004.4" stroke="#111" stroke-width="9" fill="none" stroke-linecap="round"/>
<circle cx="1823.8" cy="1029.4" r="9.3" fill="none" stroke="#000" stroke-width="1.6"/>
<path d="M1823.8 1029.4V1020.1000000000001A9.3 9.3 0 0 0 1814.5 1029.4ZM1823.8 1029.4V1038.7A9.3 9.3 0 0 0 1833.1 1029.4Z" fill="#000"/>
<path d="M1824.1 1038.7L1828 1286" stroke="#000" stroke-width="1.5" fill="none"/>
<ellipse cx="1828.4" cy="1295" rx="8.4" ry="4.9" fill="#000"/>
<path d="M1862.5 1206.7L1857.7 1332.4" stroke="#000" stroke-width="1.2" stroke-dasharray="1.2 1.2" fill="none"/>
<path d="M1818.5 1305.8L1856.5 1311.2M1825 1303.5L1818.5 1305.8L1824.3 1309.5M1850.5 1307.6L1856.5 1311.2L1849.8 1313.4" stroke="#000" stroke-width="1.1" fill="none"/>
</g>
<!-- 50_e.svg -->
<g id="panel-e">
<rect x="1781.7" y="1612.5" width="41" height="191" fill="#D95319" stroke="#000" stroke-width="2.5"/>
<rect x="1826.1" y="1729.9" width="41" height="73.6" fill="#1FA198" stroke="#000" stroke-width="2.5"/>
<path d="M1802.4 1409.5V1804M1846.3 1668.2V1791.3" stroke="#000" stroke-width="3.4" fill="none"/>
<path d="M1823 1612H1860.7" stroke="#000" stroke-width="2" fill="none"/>
<path d="M1833.2 1612V1712" stroke="#000" stroke-width="1.2" fill="none"/>
<path d="M1833.2 1727L1827.6 1707.4L1833.2 1712.5L1838.8 1707.4Z" fill="#000"/>
<path d="M1902.4 1349V1804.5M1902.4 1349.5H1896.5M1902.4 1463.4H1896.5M1902.4 1577H1896.5M1902.4 1690.3H1896.5M1902.4 1803.8H1896.5" stroke="#262626" stroke-width="1.8" fill="none"/>
<path d="M1802 1390.5V1380.5H1850.75V1390.5" stroke="#000" stroke-width="2" fill="none"/>
</g>
<text transform="translate(1733.44 1377.80) scale(0.2948 0.2500)" font-size="200" font-weight="bold" fill="#000" style="white-space:pre">e</text>
<text transform="translate(1815.54 1391.33) scale(0.2632 0.2270)" font-size="200" font-weight="bold" fill="#000" style="white-space:pre">*</text>
<text transform="translate(1911.64 1363.81) scale(0.1515 0.1465)" font-size="200" font-weight="bold" fill="#000" style="white-space:pre">3</text>
<text transform="translate(1911.35 1473.10) scale(0.1504 0.1479)" font-size="200" font-weight="bold" fill="#000" style="white-space:pre">2.5</text>
<text transform="translate(1911.31 1587.20) scale(0.1562 0.1500)" font-size="200" font-weight="bold" fill="#000" style="white-space:pre">2</text>
<text transform="translate(1910.98 1700.30) scale(0.1513 0.1500)" font-size="200" font-weight="bold" fill="#000" style="white-space:pre">1.5</text>
<text transform="translate(1911.14 1813.80) scale(0.1383 0.1507)" font-size="200" font-weight="bold" fill="#000" style="white-space:pre">1</text>
<text transform="translate(1808.14 1607.18) scale(0.1065 0.1120)" font-size="200" fill="#000" style="white-space:pre">-28.1%</text>
<text transform="translate(1996.84 1666.76) rotate(-90) scale(0.1445 0.1644)" font-size="200" font-weight="bold" fill="#000" style="white-space:pre">Circuity Index</text>
</svg>
</body></html>
